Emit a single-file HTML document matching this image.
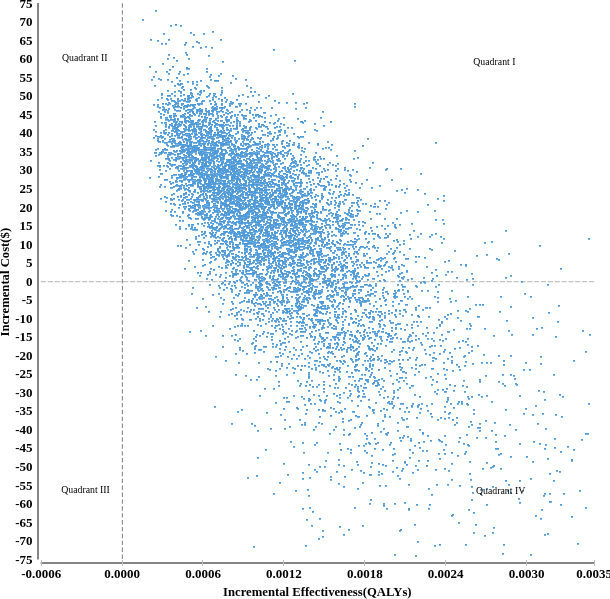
<!DOCTYPE html>
<html><head><meta charset="utf-8"><style>
html,body{margin:0;padding:0;background:#fff;}
body{width:610px;height:599px;overflow:hidden;position:relative;}
svg{position:absolute;left:0;top:0;display:block;}
.yl text{font:bold 13px "Liberation Serif","Times New Roman",serif;text-anchor:end;fill:#000;}
.xl text{font:bold 13px "Liberation Serif","Times New Roman",serif;text-anchor:middle;fill:#000;}
.q{font:9.8px "Liberation Serif","Times New Roman",serif;fill:#000;}
.t{font:bold 12.7px "Liberation Serif","Times New Roman",serif;fill:#000;}
</style></head><body>
<svg width="610" height="599" viewBox="0 0 610 599">
<path d="M40.9 281.7H594.4" stroke="#c4c4c4" stroke-width="1.2" stroke-dasharray="5.2 1.65" fill="none"/>
<path d="M122.4 3.3V560" stroke="#8a8a8a" stroke-width="1.1" stroke-dasharray="4.4 2.49" fill="none"/>

<path d="M264 134.875h2M245 292.875h2M175 130.875h2M275 175.875h2M260 149.875h2M275 163.875h2M272 346.875h2M222 138.875h2M198 126.875h2M320 336.875h2M240 166.875h2M407 291.875h2M255 225.875h2M503 544.875h2M258 223.875h2M213 95.875h2M227 254.875h2M216 152.875h2M222 335.875h2M224 231.875h2M269 251.875h2M299 208.875h2M244 248.875h2M342 313.875h2M336 155.875h2M337 322.875h2M205 108.875h2M303 317.875h2M217 80.875h2M172 66.875h2M222 198.875h2M267 169.875h2M195 142.875h2M270 206.875h2M369 332.875h2M263 210.875h2M229 328.875h2M250 184.875h2M224 196.875h2M241 193.875h2M259 188.875h2M217 249.875h2M243 183.875h2M206 157.875h2M288 290.875h2M250 199.875h2M191 151.875h2M250 161.875h2M505 230.875h2M216 226.875h2M197 169.875h2M311 227.875h2M224 149.875h2M357 273.875h2M194 161.875h2M338 203.875h2M248 132.875h2M185 157.875h2M219 246.875h2M293 180.875h2M220 148.875h2M175 160.875h2M243 136.875h2M208 159.875h2M155 152.875h2M259 283.875h2M207 157.875h2M180 92.875h2M282 201.875h2M185 172.875h2M239 195.875h2M257 160.875h2M217 151.875h2M206 117.875h2M240 163.875h2M242 168.875h2M263 215.875h2M329 343.875h2M401 470.875h2M251 226.875h2M329 280.875h2M210 159.875h2M224 183.875h2M468 426.875h2M214 183.875h2M242 239.875h2M241 166.875h2M321 231.875h2M240 220.875h2M231 222.875h2M180 177.875h2M226 170.875h2M283 273.875h2M176 158.875h2M197 140.875h2M270 216.875h2M180 175.875h2M222 180.875h2M260 201.875h2M244 230.875h2M202 213.875h2M403 265.875h2M392 305.875h2M218 170.875h2M314 313.875h2M187 146.875h2M271 246.875h2M258 94.875h2M233 267.875h2M330 323.875h2M258 148.875h2M199 214.875h2M366 179.875h2M343 244.875h2M258 362.875h2M372 383.875h2M383 297.875h2M331 215.875h2M327 332.875h2M275 219.875h2M235 208.875h2M262 239.875h2M363 255.875h2M353 241.875h2M370 293.875h2M295 243.875h2M236 126.875h2M371 342.875h2M331 184.875h2M299 223.875h2M253 160.875h2M253 159.875h2M211 182.875h2M267 209.875h2M165 109.875h2M219 316.875h2M188 194.875h2M191 196.875h2M237 255.875h2M239 338.875h2M366 368.875h2M246 154.875h2M290 236.875h2M544 399.875h2M255 271.875h2M386 168.875h2M218 187.875h2M222 173.875h2M219 228.875h2M231 152.875h2M535 405.875h2M313 189.875h2M209 197.875h2M271 155.875h2M253 229.875h2M215 175.875h2M210 245.875h2M267 304.875h2M303 279.875h2M199 119.875h2M280 223.875h2M263 264.875h2M281 363.875h2M240 171.875h2M187 156.875h2M368 273.875h2M255 214.875h2M239 105.875h2M356 239.875h2M278 263.875h2M472 278.875h2M297 262.875h2M327 141.875h2M391 401.875h2M255 127.875h2M339 443.875h2M230 148.875h2M310 247.875h2M296 299.875h2M350 331.875h2M443 200.875h2M249 156.875h2M338 258.875h2M386 508.875h2M338 317.875h2M293 271.875h2M193 173.875h2M207 165.875h2M177 118.875h2M374 203.875h2M415 465.875h2M179 150.875h2M193 210.875h2M321 423.875h2M227 137.875h2M189 210.875h2M208 187.875h2M400 338.875h2M280 202.875h2M270 220.875h2M204 181.875h2M325 222.875h2M250 309.875h2M327 278.875h2M369 312.875h2M179 125.875h2M197 172.875h2M234 209.875h2M209 93.875h2M194 266.875h2M263 190.875h2M466 279.875h2M452 370.875h2M240 148.875h2M244 240.875h2M238 169.875h2M281 234.875h2M214 229.875h2M214 207.875h2M252 270.875h2M278 158.875h2M167 156.875h2M274 279.875h2M203 170.875h2M334 271.875h2M328 307.875h2M189 148.875h2M217 218.875h2M374 350.875h2M328 224.875h2M285 261.875h2M218 172.875h2M223 237.875h2M210 118.875h2M205 187.875h2M189 100.875h2M272 234.875h2M229 203.875h2M342 327.875h2M220 157.875h2M292 260.875h2M350 452.875h2M362 312.875h2M240 152.875h2M288 222.875h2M503 364.875h2M225 101.875h2M265 155.875h2M236 198.875h2M252 179.875h2M268 152.875h2M244 287.875h2M322 286.875h2M281 294.875h2M231 195.875h2M243 117.875h2M318 254.875h2M163 114.875h2M284 158.875h2M394 503.875h2M259 260.875h2M260 244.875h2M495 441.875h2M258 159.875h2M287 168.875h2M242 230.875h2M201 210.875h2M190 184.875h2M406 188.875h2M256 224.875h2M311 279.875h2M253 221.875h2M372 364.875h2M217 117.875h2M390 322.875h2M282 245.875h2M168 158.875h2M211 158.875h2M239 180.875h2M360 305.875h2M286 206.875h2M226 177.875h2M271 157.875h2M218 142.875h2M229 237.875h2M208 224.875h2M304 193.875h2M223 231.875h2M240 144.875h2M411 278.875h2M355 286.875h2M166 142.875h2M254 279.875h2M241 301.875h2M269 131.875h2M190 206.875h2M301 396.875h2M540 356.875h2M269 133.875h2M221 177.875h2M260 160.875h2M194 181.875h2M173 198.875h2M247 197.875h2M229 212.875h2M252 282.875h2M246 161.875h2M393 349.875h2M215 144.875h2M204 143.875h2M239 290.875h2M209 271.875h2M369 294.875h2M202 157.875h2M271 228.875h2M263 263.875h2M380 338.875h2M231 187.875h2M385 233.875h2M219 153.875h2M249 177.875h2M239 205.875h2M238 205.875h2M282 195.875h2M519 443.875h2M307 194.875h2M189 134.875h2M313 275.875h2M235 148.875h2M340 449.875h2M231 167.875h2M248 299.875h2M218 188.875h2M276 243.875h2M310 218.875h2M306 345.875h2M273 267.875h2M260 190.875h2M217 166.875h2M222 176.875h2M298 269.875h2M218 198.875h2M259 253.875h2M216 254.875h2M265 170.875h2M275 223.875h2M305 305.875h2M307 245.875h2M519 480.875h2M251 232.875h2M177 143.875h2M202 205.875h2M192 149.875h2M256 236.875h2M244 256.875h2M235 237.875h2M418 371.875h2M293 237.875h2M286 230.875h2M282 253.875h2M330 415.875h2M428 488.875h2M343 348.875h2M294 287.875h2M237 273.875h2M350 227.875h2M295 205.875h2M213 109.875h2M560 504.875h2M322 325.875h2M317 321.875h2M292 234.875h2M303 188.875h2M199 177.875h2M255 215.875h2M182 150.875h2M224 232.875h2M323 209.875h2M269 183.875h2M202 190.875h2M191 152.875h2M241 138.875h2M230 225.875h2M387 402.875h2M291 127.875h2M280 271.875h2M206 126.875h2M231 174.875h2M249 119.875h2M248 210.875h2M204 231.875h2M321 319.875h2M348 189.875h2M199 275.875h2M188 121.875h2M254 203.875h2M254 190.875h2M571 516.875h2M214 171.875h2M198 213.875h2M324 265.875h2M279 177.875h2M288 203.875h2M284 270.875h2M438 439.875h2M338 247.875h2M322 281.875h2M259 335.875h2M179 137.875h2M349 207.875h2M192 207.875h2M261 256.875h2M343 296.875h2M380 260.875h2M262 333.875h2M245 127.875h2M172 138.875h2M197 199.875h2M187 147.875h2M292 240.875h2M311 525.875h2M345 291.875h2M445 338.875h2M240 188.875h2M247 143.875h2M244 168.875h2M471 396.875h2M270 298.875h2M189 166.875h2M338 334.875h2M275 264.875h2M236 182.875h2M360 246.875h2M473 413.875h2M297 298.875h2M224 140.875h2M350 419.875h2M456 422.875h2M274 224.875h2M320 292.875h2M190 138.875h2M281 273.875h2M322 320.875h2M249 208.875h2M538 390.875h2M247 136.875h2M290 237.875h2M237 201.875h2M298 137.875h2M268 203.875h2M384 414.875h2M226 256.875h2M301 121.875h2M244 325.875h2M248 211.875h2M296 264.875h2M306 409.875h2M189 157.875h2M262 245.875h2M281 268.875h2M562 396.875h2M188 187.875h2M448 470.875h2M211 234.875h2M314 291.875h2M290 208.875h2M339 243.875h2M283 220.875h2M263 177.875h2M211 201.875h2M177 158.875h2M300 167.875h2M188 135.875h2M242 243.875h2M301 275.875h2M258 203.875h2M397 475.875h2M220 195.875h2M395 310.875h2M178 189.875h2M319 252.875h2M284 277.875h2M256 128.875h2M238 202.875h2M248 253.875h2M252 167.875h2M214 107.875h2M269 192.875h2M203 141.875h2M317 310.875h2M285 236.875h2M363 312.875h2M295 490.875h2M280 193.875h2M271 232.875h2M409 357.875h2M220 218.875h2M263 208.875h2M210 168.875h2M249 311.875h2M290 246.875h2M225 117.875h2M400 369.875h2M224 165.875h2M407 298.875h2M166 165.875h2M257 217.875h2M303 241.875h2M296 272.875h2M298 284.875h2M238 103.875h2M264 212.875h2M431 403.875h2M211 107.875h2M219 136.875h2M236 214.875h2M322 148.875h2M273 285.875h2M206 251.875h2M190 104.875h2M299 303.875h2M271 179.875h2M188 199.875h2M225 226.875h2M236 181.875h2M225 172.875h2M213 158.875h2M358 197.875h2M222 128.875h2M304 422.875h2M245 375.875h2M211 156.875h2M245 197.875h2M239 191.875h2M326 219.875h2M308 178.875h2M344 187.875h2M293 251.875h2M201 194.875h2M328 343.875h2M183 177.875h2M239 121.875h2M216 134.875h2M510 374.875h2M171 119.875h2M308 282.875h2M209 100.875h2M281 197.875h2M237 228.875h2M237 187.875h2M292 144.875h2M219 124.875h2M354 238.875h2M169 160.875h2M271 214.875h2M268 216.875h2M306 292.875h2M358 224.875h2M234 137.875h2M342 295.875h2M306 221.875h2M370 474.875h2M253 205.875h2M293 142.875h2M312 253.875h2M394 224.875h2M446 318.875h2M333 408.875h2M232 215.875h2M222 159.875h2M279 482.875h2M498 355.875h2M265 301.875h2M346 267.875h2M247 176.875h2M322 305.875h2M200 151.875h2M263 209.875h2M356 338.875h2M310 224.875h2M339 302.875h2M303 264.875h2M276 265.875h2M277 215.875h2M357 204.875h2M205 186.875h2M187 150.875h2M306 272.875h2M264 247.875h2M253 261.875h2M511 334.875h2M237 131.875h2M343 300.875h2M345 262.875h2M318 172.875h2M370 227.875h2M213 163.875h2M286 222.875h2M189 109.875h2M249 267.875h2M185 161.875h2M471 424.875h2M293 227.875h2M553 480.875h2M327 346.875h2M313 221.875h2M214 182.875h2M212 141.875h2M254 202.875h2M390 335.875h2M187 145.875h2M267 175.875h2M233 173.875h2M323 279.875h2M326 243.875h2M360 470.875h2M241 323.875h2M267 256.875h2M230 263.875h2M296 211.875h2M184 155.875h2M170 198.875h2M241 134.875h2M209 76.875h2M443 238.875h2M266 293.875h2M223 299.875h2M201 174.875h2M266 256.875h2M262 313.875h2M320 251.875h2M222 208.875h2M176 77.875h2M204 155.875h2M231 115.875h2M249 238.875h2M323 345.875h2M236 120.875h2M247 289.875h2M228 138.875h2M390 248.875h2M182 114.875h2M304 286.875h2M216 127.875h2M389 370.875h2M370 262.875h2M248 191.875h2M482 304.875h2M251 213.875h2M229 206.875h2M276 238.875h2M269 223.875h2M382 464.875h2M212 99.875h2M195 148.875h2M302 200.875h2M299 222.875h2M314 204.875h2M289 287.875h2M244 177.875h2M215 274.875h2M236 196.875h2M217 130.875h2M345 277.875h2M274 257.875h2M331 367.875h2M198 169.875h2M164 196.875h2M343 230.875h2M266 241.875h2M158 176.875h2M444 349.875h2M319 271.875h2M326 268.875h2M507 490.875h2M300 154.875h2M216 144.875h2M201 176.875h2M278 324.875h2M305 173.875h2M231 250.875h2M174 85.875h2M290 168.875h2M369 316.875h2M249 201.875h2M293 289.875h2M261 295.875h2M181 200.875h2M303 259.875h2M190 175.875h2M237 232.875h2M320 307.875h2M190 228.875h2M339 261.875h2M346 194.875h2M323 125.875h2M242 184.875h2M201 162.875h2M353 274.875h2M203 211.875h2M191 159.875h2M294 256.875h2M185 206.875h2M231 289.875h2M278 201.875h2M241 282.875h2M276 281.875h2M215 108.875h2M190 201.875h2M326 347.875h2M169 103.875h2M343 434.875h2M197 141.875h2M200 212.875h2M303 281.875h2M249 229.875h2M335 426.875h2M357 405.875h2M205 158.875h2M305 202.875h2M194 160.875h2M210 187.875h2M321 244.875h2M267 197.875h2M401 277.875h2M323 327.875h2M233 177.875h2M201 167.875h2M240 199.875h2M314 228.875h2M435 286.875h2M207 170.875h2M272 194.875h2M357 388.875h2M372 311.875h2M244 219.875h2M334 316.875h2M265 187.875h2M412 385.875h2M286 174.875h2M222 226.875h2M418 316.875h2M409 248.875h2M248 273.875h2M246 311.875h2M263 242.875h2M303 276.875h2M373 305.875h2M268 175.875h2M313 297.875h2M216 123.875h2M220 182.875h2M354 293.875h2M361 378.875h2M297 223.875h2M269 172.875h2M246 244.875h2M266 182.875h2M412 332.875h2M208 184.875h2M297 230.875h2M249 112.875h2M342 287.875h2M312 386.875h2M245 214.875h2M310 260.875h2M218 193.875h2M384 362.875h2M239 212.875h2M405 351.875h2M302 218.875h2M316 217.875h2M285 323.875h2M271 211.875h2M308 200.875h2M186 54.875h2M272 289.875h2M193 158.875h2M510 355.875h2M230 162.875h2M200 189.875h2M355 182.875h2M274 153.875h2M302 478.875h2M274 297.875h2M377 206.875h2M391 338.875h2M260 206.875h2M260 172.875h2M427 410.875h2M304 327.875h2M389 416.875h2M174 104.875h2M220 147.875h2M204 180.875h2M334 371.875h2M234 154.875h2M519 502.875h2M280 123.875h2M276 236.875h2M407 338.875h2M285 233.875h2M304 404.875h2M210 145.875h2M198 120.875h2M235 185.875h2M196 145.875h2M298 265.875h2M260 224.875h2M244 187.875h2M215 252.875h2M265 206.875h2M424 282.875h2M175 143.875h2M241 227.875h2M177 135.875h2M368 317.875h2M248 189.875h2M308 273.875h2M324 305.875h2M255 212.875h2M192 287.875h2M239 213.875h2M320 261.875h2M199 182.875h2M164 122.875h2M302 257.875h2M257 180.875h2M332 347.875h2M230 172.875h2M177 153.875h2M336 346.875h2M261 273.875h2M383 279.875h2M293 245.875h2M259 214.875h2M249 249.875h2M243 310.875h2M327 307.875h2M302 231.875h2M206 183.875h2M369 365.875h2M243 234.875h2M266 150.875h2M169 136.875h2M345 294.875h2M206 133.875h2M196 100.875h2M302 237.875h2M314 211.875h2M242 270.875h2M337 168.875h2M365 275.875h2M269 266.875h2M315 224.875h2M276 201.875h2M207 149.875h2M272 205.875h2M352 411.875h2M232 246.875h2M275 238.875h2M205 156.875h2M218 183.875h2M232 211.875h2M305 107.875h2M193 168.875h2M514 378.875h2M263 180.875h2M274 327.875h2M287 244.875h2M422 450.875h2M468 398.875h2M242 206.875h2M272 318.875h2M343 265.875h2M285 185.875h2M310 184.875h2M170 115.875h2M326 244.875h2M251 234.875h2M176 129.875h2M270 184.875h2M198 163.875h2M228 180.875h2M345 232.875h2M266 126.875h2M272 198.875h2M301 353.875h2M180 83.875h2M362 390.875h2M276 219.875h2M448 413.875h2M260 285.875h2M279 290.875h2M284 338.875h2M167 99.875h2M238 148.875h2M402 468.875h2M228 255.875h2M245 222.875h2M309 215.875h2M260 253.875h2M384 325.875h2M444 468.875h2M476 255.875h2M317 239.875h2M420 233.875h2M354 507.875h2M500 453.875h2M282 320.875h2M250 171.875h2M260 214.875h2M371 230.875h2M298 196.875h2M182 158.875h2M277 160.875h2M240 195.875h2M245 151.875h2M449 412.875h2M205 159.875h2M376 259.875h2M191 171.875h2M258 229.875h2M221 153.875h2M214 122.875h2M294 178.875h2M291 330.875h2M237 114.875h2M232 170.875h2M444 261.875h2M581 439.875h2M250 207.875h2M284 173.875h2M277 269.875h2M302 252.875h2M317 238.875h2M286 274.875h2M242 282.875h2M470 479.875h2M284 184.875h2M357 390.875h2M177 156.875h2M290 283.875h2M471 350.875h2M356 273.875h2M218 185.875h2M177 83.875h2M299 419.875h2M247 163.875h2M348 420.875h2M223 132.875h2M218 165.875h2M257 262.875h2M170 141.875h2M193 191.875h2M334 207.875h2M218 191.875h2M299 202.875h2M236 117.875h2M425 307.875h2M323 239.875h2M201 138.875h2M344 169.875h2M195 172.875h2M307 242.875h2M208 181.875h2M252 172.875h2M204 116.875h2M332 366.875h2M189 142.875h2M415 309.875h2M255 176.875h2M216 210.875h2M295 290.875h2M238 259.875h2M226 174.875h2M231 271.875h2M355 355.875h2M337 249.875h2M246 212.875h2M328 240.875h2M498 381.875h2M261 189.875h2M341 316.875h2M272 312.875h2M189 152.875h2M241 218.875h2M292 261.875h2M312 215.875h2M276 176.875h2M281 178.875h2M164 133.875h2M192 81.875h2M293 184.875h2M228 165.875h2M329 258.875h2M230 194.875h2M257 303.875h2M196 126.875h2M204 117.875h2M302 216.875h2M222 124.875h2M261 195.875h2M342 421.875h2M160 116.875h2M202 200.875h2M231 291.875h2M301 293.875h2M270 272.875h2M253 330.875h2M427 460.875h2M323 246.875h2M470 421.875h2M235 142.875h2M444 418.875h2M336 254.875h2M351 205.875h2M191 172.875h2M286 145.875h2M381 340.875h2M292 180.875h2M203 179.875h2M505 480.875h2M288 212.875h2M358 206.875h2M279 328.875h2M291 256.875h2M282 219.875h2M227 235.875h2M246 249.875h2M238 222.875h2M237 199.875h2M197 241.875h2M218 266.875h2M245 204.875h2M272 276.875h2M241 209.875h2M226 171.875h2M277 159.875h2M212 121.875h2M328 243.875h2M195 176.875h2M278 188.875h2M186 171.875h2M297 146.875h2M250 242.875h2M197 180.875h2M258 124.875h2M262 204.875h2M192 181.875h2M175 167.875h2M293 446.875h2M282 154.875h2M313 324.875h2M232 169.875h2M239 270.875h2M297 380.875h2M294 221.875h2M160 135.875h2M247 292.875h2M391 361.875h2M193 157.875h2M319 293.875h2M186 152.875h2M298 208.875h2M388 251.875h2M257 276.875h2M203 134.875h2M192 83.875h2M282 183.875h2M262 247.875h2M366 246.875h2M181 122.875h2M249 211.875h2M197 103.875h2M369 503.875h2M352 339.875h2M220 201.875h2M357 359.875h2M309 399.875h2M302 208.875h2M262 244.875h2M176 181.875h2M194 227.875h2M238 160.875h2M267 368.875h2M262 234.875h2M155 125.875h2M218 240.875h2M334 300.875h2M200 110.875h2M314 156.875h2M241 219.875h2M303 267.875h2M207 174.875h2M444 391.875h2M274 260.875h2M374 339.875h2M349 338.875h2M262 319.875h2M260 180.875h2M221 163.875h2M198 152.875h2M170 146.875h2M253 272.875h2M211 149.875h2M278 203.875h2M290 257.875h2M342 303.875h2M258 286.875h2M161 151.875h2M311 259.875h2M244 246.875h2M214 101.875h2M309 284.875h2M261 215.875h2M323 185.875h2M195 138.875h2M295 220.875h2M205 171.875h2M293 260.875h2M226 164.875h2M245 143.875h2M277 135.875h2M257 237.875h2M282 189.875h2M199 187.875h2M171 135.875h2M293 225.875h2M265 201.875h2M312 233.875h2M190 143.875h2M302 203.875h2M335 214.875h2M344 282.875h2M216 156.875h2M331 265.875h2M358 395.875h2M215 179.875h2M357 488.875h2M291 263.875h2M301 182.875h2M216 199.875h2M312 249.875h2M266 281.875h2M325 176.875h2M202 100.875h2M409 449.875h2M213 236.875h2M292 219.875h2M432 357.875h2M250 379.875h2M256 186.875h2M379 266.875h2M388 401.875h2M226 127.875h2M336 306.875h2M221 149.875h2M213 167.875h2M221 104.875h2M312 280.875h2M290 177.875h2M208 219.875h2M258 242.875h2M293 243.875h2M205 155.875h2M343 183.875h2M298 211.875h2M303 270.875h2M174 211.875h2M369 349.875h2M399 478.875h2M350 346.875h2M391 327.875h2M160 79.875h2M372 331.875h2M357 386.875h2M230 174.875h2M249 170.875h2M303 173.875h2M313 274.875h2M380 336.875h2M334 270.875h2M285 225.875h2M191 124.875h2M268 144.875h2M322 267.875h2M197 126.875h2M192 211.875h2M275 241.875h2M329 162.875h2M285 186.875h2M201 121.875h2M273 204.875h2M384 280.875h2M232 229.875h2M466 386.875h2M289 218.875h2M227 228.875h2M233 297.875h2M258 116.875h2M451 356.875h2M271 107.875h2M250 160.875h2M269 226.875h2M313 279.875h2M412 349.875h2M274 231.875h2M234 235.875h2M201 172.875h2M197 124.875h2M297 289.875h2M199 195.875h2M247 211.875h2M318 297.875h2M190 172.875h2M244 249.875h2M326 267.875h2M273 186.875h2M262 134.875h2M367 291.875h2M233 184.875h2M227 147.875h2M251 195.875h2M342 270.875h2M270 212.875h2M259 168.875h2M337 401.875h2M184 177.875h2M293 215.875h2M272 174.875h2M275 375.875h2M285 231.875h2M251 269.875h2M296 316.875h2M435 219.875h2M276 220.875h2M223 208.875h2M360 319.875h2M243 139.875h2M278 193.875h2M247 194.875h2M253 243.875h2M182 211.875h2M225 170.875h2M161 93.875h2M399 251.875h2M221 145.875h2M262 214.875h2M295 305.875h2M246 270.875h2M324 262.875h2M277 300.875h2M245 126.875h2M276 257.875h2M281 365.875h2M203 187.875h2M236 125.875h2M436 275.875h2M240 185.875h2M194 133.875h2M251 267.875h2M182 199.875h2M343 486.875h2M282 207.875h2M274 270.875h2M234 168.875h2M386 409.875h2M253 225.875h2M245 218.875h2M285 189.875h2M257 286.875h2M370 374.875h2M238 256.875h2M308 261.875h2M458 441.875h2M212 199.875h2M264 181.875h2M181 157.875h2M267 165.875h2M196 201.875h2M415 359.875h2M358 320.875h2M220 190.875h2M347 296.875h2M256 379.875h2M286 248.875h2M299 316.875h2M194 204.875h2M209 137.875h2M278 274.875h2M218 223.875h2M403 309.875h2M308 201.875h2M199 172.875h2M219 219.875h2M195 204.875h2M264 171.875h2M178 90.875h2M257 162.875h2M233 281.875h2M571 459.875h2M235 164.875h2M348 219.875h2M286 155.875h2M254 91.875h2M393 396.875h2M365 379.875h2M369 337.875h2M355 261.875h2M244 180.875h2M213 138.875h2M252 144.875h2M248 144.875h2M205 141.875h2M320 250.875h2M264 172.875h2M249 222.875h2M207 175.875h2M289 172.875h2M282 191.875h2M333 252.875h2M253 245.875h2M342 225.875h2M338 412.875h2M251 203.875h2M221 173.875h2M249 240.875h2M431 416.875h2M202 143.875h2M379 200.875h2M362 276.875h2M339 249.875h2M208 95.875h2M221 188.875h2M274 235.875h2M359 187.875h2M273 220.875h2M239 264.875h2M332 291.875h2M255 254.875h2M239 199.875h2M308 142.875h2M214 172.875h2M236 179.875h2M209 182.875h2M304 358.875h2M210 222.875h2M530 554.875h2M380 360.875h2M212 153.875h2M256 260.875h2M287 127.875h2M309 243.875h2M274 251.875h2M464 355.875h2M343 286.875h2M356 251.875h2M273 221.875h2M315 311.875h2M202 193.875h2M457 317.875h2M334 276.875h2M241 215.875h2M254 153.875h2M243 172.875h2M371 368.875h2M229 103.875h2M225 195.875h2M223 177.875h2M272 193.875h2M335 213.875h2M282 342.875h2M221 126.875h2M290 441.875h2M277 137.875h2M353 253.875h2M235 287.875h2M170 119.875h2M433 340.875h2M563 493.875h2M174 135.875h2M321 308.875h2M251 211.875h2M453 407.875h2M355 322.875h2M287 253.875h2M426 450.875h2M288 150.875h2M357 281.875h2M227 221.875h2M355 349.875h2M159 169.875h2M442 340.875h2M268 158.875h2M184 268.875h2M198 186.875h2M338 206.875h2M366 300.875h2M219 156.875h2M330 339.875h2M177 145.875h2M383 397.875h2M267 240.875h2M289 333.875h2M441 334.875h2M276 155.875h2M212 189.875h2M221 208.875h2M314 242.875h2M256 150.875h2M288 272.875h2M305 255.875h2M541 327.875h2M185 52.875h2M369 443.875h2M469 328.875h2M205 157.875h2M369 366.875h2M301 257.875h2M269 207.875h2M176 128.875h2M202 206.875h2M197 158.875h2M318 365.875h2M239 208.875h2M236 236.875h2M206 168.875h2M291 159.875h2M257 216.875h2M245 189.875h2M362 286.875h2M209 163.875h2M318 218.875h2M274 146.875h2M295 254.875h2M222 136.875h2M191 121.875h2M319 283.875h2M330 203.875h2M199 141.875h2M404 461.875h2M360 303.875h2M199 196.875h2M240 194.875h2M391 341.875h2M227 193.875h2M377 382.875h2M214 235.875h2M339 288.875h2M305 282.875h2M274 191.875h2M338 339.875h2M210 130.875h2M226 208.875h2M261 278.875h2M215 178.875h2M278 174.875h2M355 299.875h2M246 258.875h2M263 257.875h2M413 230.875h2M280 267.875h2M208 191.875h2M320 273.875h2M207 222.875h2M224 204.875h2M250 134.875h2M185 126.875h2M303 229.875h2M222 145.875h2M530 296.875h2M213 188.875h2M226 199.875h2M249 232.875h2M215 232.875h2M226 214.875h2M343 429.875h2M224 168.875h2M337 242.875h2M227 176.875h2M258 311.875h2M178 124.875h2M324 282.875h2M221 217.875h2M328 147.875h2M484 328.875h2M172 141.875h2M194 135.875h2M298 242.875h2M267 307.875h2M301 238.875h2M192 185.875h2M411 406.875h2M206 214.875h2M363 338.875h2M392 269.875h2M311 368.875h2M240 167.875h2M259 166.875h2M235 210.875h2M328 184.875h2M320 301.875h2M433 357.875h2M267 219.875h2M277 185.875h2M444 453.875h2M222 183.875h2M194 148.875h2M235 244.875h2M251 220.875h2M370 348.875h2M245 79.875h2M255 162.875h2M250 145.875h2M184 197.875h2M509 424.875h2M222 168.875h2M510 306.875h2M255 259.875h2M386 253.875h2M383 408.875h2M253 141.875h2M247 285.875h2M226 159.875h2M306 202.875h2M366 380.875h2M334 217.875h2M288 308.875h2M205 119.875h2M206 165.875h2M235 204.875h2M245 165.875h2M228 224.875h2M288 236.875h2M313 314.875h2M388 363.875h2M248 270.875h2M323 365.875h2M230 82.875h2M169 124.875h2M419 429.875h2M246 266.875h2M175 102.875h2M177 110.875h2M253 273.875h2M230 216.875h2M284 188.875h2M221 154.875h2M264 167.875h2M233 191.875h2M435 233.875h2M252 114.875h2M364 360.875h2M271 240.875h2M495 448.875h2M282 237.875h2M246 165.875h2M301 201.875h2M240 309.875h2M183 124.875h2M300 201.875h2M352 169.875h2M249 230.875h2M311 318.875h2M237 191.875h2M291 204.875h2M311 320.875h2M335 170.875h2M305 160.875h2M376 333.875h2M235 106.875h2M258 254.875h2M245 170.875h2M337 281.875h2M270 237.875h2M181 87.875h2M337 216.875h2M292 230.875h2M214 125.875h2M250 248.875h2M228 147.875h2M406 426.875h2M232 244.875h2M238 215.875h2M199 181.875h2M272 148.875h2M230 117.875h2M283 232.875h2M266 211.875h2M241 176.875h2M233 159.875h2M260 126.875h2M298 306.875h2M261 197.875h2M235 165.875h2M218 168.875h2M195 99.875h2M206 96.875h2M203 191.875h2M266 240.875h2M184 100.875h2M294 249.875h2M259 200.875h2M229 207.875h2M311 352.875h2M401 189.875h2M385 208.875h2M244 243.875h2M451 463.875h2M300 246.875h2M194 183.875h2M295 198.875h2M314 286.875h2M331 327.875h2M346 262.875h2M338 303.875h2M272 212.875h2M261 192.875h2M283 146.875h2M210 257.875h2M398 268.875h2M207 161.875h2M246 167.875h2M211 175.875h2M206 197.875h2M272 258.875h2M261 244.875h2M271 237.875h2M275 246.875h2M185 127.875h2M167 58.875h2M196 137.875h2M254 192.875h2M308 294.875h2M221 176.875h2M238 166.875h2M326 242.875h2M357 235.875h2M324 306.875h2M196 204.875h2M463 380.875h2M201 217.875h2M241 259.875h2M295 182.875h2M379 394.875h2M288 198.875h2M320 302.875h2M268 249.875h2M273 275.875h2M232 171.875h2M220 153.875h2M267 222.875h2M203 166.875h2M366 355.875h2M363 253.875h2M292 229.875h2M246 226.875h2M215 201.875h2M256 189.875h2M255 143.875h2M242 194.875h2M288 211.875h2M245 192.875h2M179 144.875h2M222 158.875h2M431 338.875h2M238 311.875h2M302 170.875h2M192 183.875h2M280 343.875h2M238 195.875h2M350 358.875h2M209 130.875h2M253 204.875h2M275 321.875h2M250 211.875h2M198 172.875h2M291 305.875h2M209 187.875h2M210 131.875h2M330 246.875h2M281 179.875h2M226 267.875h2M307 248.875h2M350 349.875h2M173 138.875h2M297 300.875h2M287 258.875h2M343 465.875h2M241 208.875h2M236 121.875h2M257 172.875h2M201 155.875h2M236 153.875h2M345 219.875h2M179 177.875h2M466 328.875h2M235 133.875h2M465 265.875h2M301 172.875h2M411 314.875h2M313 394.875h2M270 254.875h2M277 252.875h2M207 185.875h2M255 197.875h2M332 224.875h2M399 387.875h2M389 444.875h2M358 351.875h2M341 254.875h2M248 264.875h2M208 176.875h2M280 355.875h2M283 261.875h2M245 238.875h2M226 140.875h2M271 299.875h2M375 402.875h2M255 340.875h2M366 438.875h2M281 206.875h2M443 351.875h2M197 197.875h2M238 95.875h2M300 183.875h2M236 99.875h2M389 320.875h2M251 256.875h2M208 142.875h2M246 237.875h2M393 405.875h2M309 507.875h2M379 324.875h2M214 174.875h2M221 158.875h2M248 200.875h2M325 259.875h2M228 154.875h2M239 223.875h2M306 216.875h2M557 321.875h2M204 222.875h2M502 374.875h2M194 208.875h2M271 336.875h2M265 167.875h2M220 169.875h2M190 170.875h2M285 312.875h2M266 221.875h2M267 247.875h2M407 290.875h2M469 308.875h2M347 347.875h2M167 112.875h2M287 171.875h2M162 106.875h2M251 185.875h2M368 346.875h2M195 137.875h2M321 256.875h2M252 213.875h2M393 360.875h2M279 368.875h2M226 116.875h2M194 205.875h2M170 153.875h2M252 342.875h2M224 176.875h2M420 173.875h2M306 237.875h2M293 199.875h2M279 267.875h2M267 161.875h2M307 193.875h2M257 153.875h2M231 165.875h2M326 298.875h2M191 95.875h2M236 168.875h2M263 303.875h2M269 304.875h2M165 170.875h2M329 261.875h2M305 266.875h2M280 291.875h2M268 234.875h2M167 162.875h2M291 270.875h2M264 200.875h2M309 266.875h2M359 280.875h2M314 360.875h2M180 124.875h2M313 305.875h2M190 154.875h2M288 252.875h2M253 338.875h2M168 141.875h2M355 311.875h2M394 226.875h2M555 414.875h2M326 311.875h2M223 250.875h2M224 191.875h2M202 151.875h2M209 113.875h2M244 207.875h2M346 271.875h2M384 312.875h2M268 233.875h2M310 217.875h2M200 129.875h2M251 343.875h2M237 147.875h2M221 194.875h2M203 198.875h2M286 171.875h2M209 120.875h2M214 132.875h2M473 409.875h2M397 290.875h2M219 174.875h2M328 283.875h2M194 169.875h2M270 236.875h2M271 186.875h2M216 113.875h2M222 193.875h2M294 273.875h2M333 258.875h2M215 228.875h2M367 279.875h2M288 363.875h2M259 318.875h2M191 157.875h2M297 199.875h2M444 411.875h2M342 278.875h2M174 124.875h2M209 147.875h2M314 196.875h2M266 292.875h2M291 217.875h2M234 257.875h2M325 220.875h2M366 253.875h2M334 280.875h2M225 186.875h2M435 142.875h2M208 162.875h2M280 175.875h2M223 182.875h2M204 217.875h2M337 218.875h2M543 391.875h2M486 254.875h2M217 240.875h2M286 177.875h2M182 151.875h2M248 261.875h2M451 479.875h2M314 444.875h2M237 192.875h2M431 368.875h2M184 130.875h2M334 200.875h2M373 206.875h2M196 168.875h2M219 107.875h2M352 272.875h2M471 273.875h2M368 233.875h2M457 455.875h2M313 293.875h2M240 187.875h2M248 292.875h2M323 364.875h2M214 210.875h2M263 176.875h2M298 205.875h2M238 149.875h2M267 294.875h2M256 266.875h2M309 384.875h2M336 342.875h2M437 419.875h2M323 308.875h2M304 199.875h2M249 192.875h2M278 225.875h2M431 272.875h2M286 229.875h2M337 228.875h2M197 183.875h2M585 351.875h2M303 240.875h2M308 193.875h2M277 224.875h2M284 132.875h2M250 224.875h2M210 244.875h2M258 153.875h2M173 193.875h2M267 184.875h2M327 356.875h2M248 214.875h2M579 490.875h2M302 313.875h2M238 178.875h2M340 410.875h2M303 200.875h2M195 150.875h2M285 213.875h2M290 163.875h2M241 200.875h2M265 97.875h2M172 145.875h2M384 257.875h2M180 165.875h2M216 188.875h2M268 240.875h2M360 335.875h2M232 75.875h2M256 165.875h2M303 318.875h2M344 248.875h2M283 190.875h2M351 286.875h2M294 235.875h2M258 247.875h2M235 182.875h2M270 252.875h2M267 212.875h2M498 259.875h2M261 219.875h2M243 174.875h2M268 189.875h2M230 217.875h2M266 233.875h2M310 280.875h2M468 352.875h2M310 253.875h2M306 182.875h2M277 223.875h2M236 176.875h2M399 408.875h2M344 310.875h2M348 253.875h2M227 186.875h2M278 212.875h2M188 209.875h2M188 175.875h2M262 151.875h2M300 243.875h2M365 443.875h2M279 193.875h2M347 228.875h2M229 153.875h2M285 242.875h2M460 320.875h2M233 162.875h2M289 318.875h2M264 217.875h2M243 197.875h2M261 170.875h2M188 151.875h2M210 214.875h2M167 104.875h2M231 241.875h2M441 441.875h2M227 119.875h2M341 269.875h2M229 218.875h2M486 462.875h2M359 343.875h2M223 192.875h2M330 250.875h2M209 273.875h2M298 238.875h2M223 196.875h2M395 327.875h2M289 230.875h2M353 248.875h2M170 164.875h2M249 263.875h2M277 239.875h2M252 153.875h2M292 155.875h2M344 222.875h2M216 137.875h2M235 353.875h2M325 260.875h2M279 192.875h2M235 196.875h2M216 207.875h2M268 165.875h2M191 184.875h2M315 330.875h2M371 348.875h2M168 126.875h2M235 263.875h2M287 235.875h2M160 113.875h2M257 218.875h2M255 230.875h2M432 368.875h2M299 257.875h2M230 203.875h2M267 236.875h2M319 311.875h2M338 308.875h2M242 233.875h2M208 124.875h2M439 325.875h2M223 186.875h2M445 391.875h2M262 235.875h2M248 135.875h2M238 189.875h2M187 151.875h2M177 126.875h2M317 278.875h2M248 194.875h2M299 204.875h2M322 313.875h2M238 175.875h2M235 171.875h2M184 208.875h2M193 179.875h2M256 252.875h2M283 397.875h2M334 308.875h2M196 170.875h2M242 228.875h2M161 152.875h2M208 204.875h2M218 135.875h2M400 403.875h2M237 215.875h2M293 170.875h2M308 376.875h2M207 184.875h2M248 166.875h2M335 186.875h2M298 143.875h2M294 262.875h2M216 211.875h2M178 158.875h2M321 327.875h2M300 207.875h2M222 162.875h2M164 138.875h2M359 300.875h2M329 347.875h2M373 382.875h2M277 227.875h2M220 154.875h2M336 219.875h2M254 193.875h2M316 386.875h2M259 138.875h2M343 264.875h2M301 209.875h2M477 345.875h2M178 207.875h2M539 245.875h2M222 171.875h2M267 227.875h2M289 165.875h2M356 215.875h2M254 218.875h2M336 360.875h2M212 114.875h2M251 243.875h2M410 440.875h2M273 241.875h2M294 222.875h2M329 300.875h2M157 148.875h2M272 138.875h2M346 213.875h2M202 167.875h2M222 139.875h2M224 163.875h2M271 233.875h2M212 152.875h2M319 399.875h2M237 211.875h2M219 171.875h2M261 313.875h2M183 131.875h2M175 122.875h2M276 285.875h2M251 208.875h2M215 150.875h2M225 227.875h2M357 342.875h2M269 210.875h2M179 141.875h2M204 141.875h2M341 356.875h2M348 248.875h2M223 155.875h2M225 119.875h2M318 353.875h2M280 256.875h2M238 216.875h2M372 354.875h2M287 212.875h2M417 541.875h2M358 292.875h2M325 147.875h2M286 397.875h2M174 101.875h2M278 204.875h2M338 225.875h2M217 148.875h2M228 214.875h2M282 312.875h2M228 217.875h2M267 199.875h2M241 174.875h2M364 383.875h2M201 153.875h2M414 394.875h2M221 164.875h2M361 422.875h2M185 160.875h2M266 266.875h2M296 294.875h2M346 289.875h2M351 210.875h2M307 220.875h2M192 229.875h2M300 208.875h2M218 155.875h2M334 311.875h2M159 166.875h2M325 308.875h2M300 283.875h2M225 174.875h2M303 202.875h2M333 217.875h2M171 175.875h2M180 168.875h2M277 260.875h2M258 174.875h2M307 489.875h2M306 231.875h2M217 164.875h2M459 485.875h2M298 220.875h2M217 137.875h2M200 138.875h2M332 221.875h2M309 189.875h2M172 140.875h2M354 380.875h2M333 294.875h2M246 150.875h2M299 249.875h2M468 509.875h2M355 282.875h2M200 186.875h2M279 340.875h2M384 390.875h2M333 275.875h2M229 201.875h2M323 340.875h2M273 288.875h2M249 162.875h2M275 330.875h2M204 211.875h2M283 241.875h2M196 81.875h2M418 338.875h2M246 162.875h2M369 313.875h2M208 241.875h2M350 286.875h2M523 369.875h2M233 153.875h2M253 187.875h2M246 204.875h2M377 259.875h2M299 296.875h2M405 304.875h2M331 235.875h2M259 160.875h2M267 132.875h2M350 317.875h2M194 146.875h2M295 331.875h2M207 143.875h2M214 240.875h2M262 308.875h2M245 255.875h2M412 403.875h2M304 233.875h2M533 441.875h2M260 231.875h2M270 229.875h2M205 125.875h2M222 346.875h2M315 346.875h2M317 183.875h2M234 146.875h2M343 337.875h2M285 289.875h2M251 192.875h2M227 210.875h2M345 387.875h2M278 287.875h2M266 217.875h2M385 359.875h2M302 243.875h2M239 218.875h2M239 123.875h2M242 131.875h2M174 91.875h2M336 175.875h2M231 191.875h2M331 197.875h2M184 138.875h2M255 115.875h2M378 358.875h2M388 335.875h2M262 212.875h2M355 276.875h2M193 182.875h2M262 211.875h2M261 188.875h2M283 244.875h2M545 444.875h2M270 333.875h2M549 501.875h2M230 230.875h2M321 328.875h2M224 153.875h2M376 213.875h2M376 348.875h2M197 212.875h2M274 236.875h2M259 143.875h2M245 217.875h2M284 226.875h2M230 264.875h2M255 252.875h2M237 173.875h2M227 129.875h2M239 347.875h2M467 338.875h2M205 207.875h2M225 177.875h2M276 279.875h2M295 233.875h2M205 152.875h2M294 247.875h2M540 518.875h2M268 283.875h2M240 236.875h2M310 192.875h2M232 247.875h2M232 161.875h2M352 194.875h2M220 130.875h2M291 334.875h2M365 367.875h2M405 377.875h2M287 196.875h2M175 123.875h2M236 193.875h2M192 147.875h2M256 182.875h2M372 278.875h2M364 274.875h2M256 181.875h2M247 132.875h2M307 264.875h2M192 162.875h2M389 403.875h2M299 328.875h2M202 298.875h2M390 267.875h2M261 156.875h2M216 227.875h2M311 288.875h2M196 124.875h2M359 302.875h2M337 163.875h2M255 164.875h2M184 144.875h2M254 142.875h2M254 219.875h2M203 178.875h2M201 166.875h2M306 291.875h2M271 287.875h2M260 137.875h2M313 157.875h2M398 359.875h2M336 294.875h2M396 467.875h2M184 203.875h2M292 191.875h2M222 202.875h2M257 181.875h2M296 306.875h2M264 243.875h2M282 212.875h2M174 151.875h2M232 178.875h2M206 184.875h2M232 189.875h2M192 174.875h2M274 122.875h2M285 194.875h2M243 164.875h2M253 260.875h2M256 152.875h2M200 180.875h2M547 533.875h2M189 165.875h2M368 274.875h2M186 129.875h2M293 133.875h2M261 288.875h2M203 147.875h2M185 129.875h2M200 134.875h2M343 195.875h2M234 114.875h2M203 163.875h2M161 94.875h2M372 162.875h2M364 309.875h2M263 221.875h2M236 180.875h2M299 265.875h2M203 177.875h2M306 242.875h2M170 183.875h2M255 267.875h2M367 381.875h2M227 181.875h2M416 286.875h2M260 283.875h2M283 217.875h2M305 199.875h2M272 333.875h2M185 183.875h2M402 359.875h2M208 218.875h2M259 204.875h2M310 223.875h2M199 174.875h2M215 80.875h2M304 120.875h2M229 105.875h2M243 300.875h2M207 178.875h2M555 336.875h2M300 369.875h2M203 120.875h2M191 110.875h2M281 143.875h2M222 170.875h2M379 237.875h2M165 210.875h2M248 201.875h2M180 157.875h2M376 380.875h2M204 242.875h2M220 142.875h2M266 273.875h2M308 175.875h2M241 184.875h2M278 166.875h2M251 273.875h2M319 323.875h2M301 205.875h2M246 279.875h2M273 301.875h2M508 330.875h2M458 366.875h2M218 210.875h2M264 232.875h2M266 174.875h2M230 128.875h2M253 254.875h2M321 197.875h2M236 140.875h2M353 321.875h2M397 397.875h2M319 357.875h2M205 164.875h2M197 185.875h2M242 115.875h2M256 190.875h2M492 466.875h2M416 321.875h2M232 152.875h2M173 145.875h2M254 177.875h2M405 258.875h2M243 179.875h2M230 196.875h2M295 174.875h2M236 119.875h2M177 105.875h2M341 265.875h2M314 272.875h2M529 369.875h2M233 180.875h2M352 295.875h2M292 244.875h2M177 168.875h2M254 175.875h2M260 289.875h2M214 165.875h2M354 369.875h2M431 249.875h2M234 216.875h2M388 202.875h2M296 165.875h2M291 207.875h2M214 199.875h2M302 263.875h2M189 118.875h2M166 117.875h2M334 288.875h2M283 208.875h2M402 371.875h2M170 211.875h2M209 136.875h2M289 206.875h2M217 170.875h2M284 214.875h2M370 499.875h2M320 296.875h2M189 125.875h2M200 166.875h2M493 527.875h2M205 166.875h2M315 199.875h2M235 236.875h2M303 398.875h2M234 234.875h2M241 148.875h2M293 266.875h2M190 198.875h2M237 198.875h2M417 325.875h2M236 199.875h2M372 316.875h2M241 222.875h2M407 436.875h2M277 199.875h2M336 211.875h2M284 202.875h2M290 195.875h2M353 272.875h2M252 183.875h2M211 194.875h2M192 111.875h2M287 151.875h2M374 448.875h2M326 176.875h2M386 291.875h2M222 144.875h2M218 181.875h2M379 213.875h2M271 158.875h2M311 213.875h2M215 96.875h2M296 205.875h2M168 102.875h2M225 162.875h2M259 157.875h2M232 308.875h2M350 318.875h2M280 232.875h2M265 259.875h2M341 233.875h2M244 208.875h2M233 183.875h2M349 334.875h2M295 245.875h2M408 347.875h2M346 371.875h2M211 169.875h2M253 171.875h2M328 347.875h2M255 114.875h2M291 291.875h2M260 205.875h2M251 197.875h2M261 163.875h2M324 261.875h2M202 163.875h2M253 294.875h2M202 211.875h2M215 143.875h2M243 235.875h2M397 422.875h2M294 160.875h2M206 175.875h2M373 245.875h2M319 240.875h2M215 103.875h2M345 332.875h2M328 218.875h2M229 192.875h2M305 156.875h2M211 181.875h2M207 186.875h2M320 312.875h2M289 426.875h2M394 453.875h2M239 198.875h2M171 187.875h2M299 182.875h2M317 231.875h2M241 155.875h2M353 273.875h2M302 331.875h2M255 263.875h2M385 169.875h2M189 111.875h2M247 146.875h2M282 140.875h2M323 268.875h2M365 309.875h2M324 400.875h2M302 226.875h2M369 358.875h2M212 181.875h2M204 188.875h2M260 198.875h2M246 172.875h2M261 200.875h2M234 148.875h2M198 119.875h2M320 319.875h2M377 343.875h2M335 227.875h2M434 545.875h2M371 187.875h2M314 336.875h2M221 92.875h2M205 149.875h2M209 127.875h2M212 155.875h2M223 228.875h2M260 246.875h2M180 142.875h2M239 179.875h2M267 185.875h2M284 168.875h2M283 318.875h2M184 120.875h2M379 298.875h2M339 180.875h2M233 273.875h2M480 489.875h2M231 193.875h2M237 154.875h2M235 149.875h2M232 196.875h2M302 204.875h2M244 263.875h2M330 479.875h2M257 324.875h2M237 261.875h2M176 184.875h2M208 157.875h2M235 151.875h2M503 360.875h2M181 136.875h2M313 212.875h2M259 395.875h2M261 243.875h2M226 120.875h2M158 78.875h2M329 324.875h2M419 447.875h2M150 160.875h2M228 238.875h2M219 247.875h2M220 234.875h2M261 190.875h2M186 140.875h2M212 144.875h2M183 206.875h2M295 208.875h2M213 165.875h2M164 109.875h2M300 224.875h2M269 289.875h2M382 328.875h2M277 220.875h2M229 174.875h2M251 132.875h2M308 267.875h2M228 119.875h2M431 234.875h2M229 199.875h2M190 97.875h2M278 260.875h2M323 323.875h2M382 331.875h2M241 256.875h2M192 129.875h2M246 227.875h2M482 468.875h2M311 210.875h2M311 304.875h2M179 180.875h2M276 188.875h2M352 265.875h2M234 282.875h2M182 145.875h2M313 231.875h2M178 177.875h2M284 147.875h2M283 211.875h2M311 192.875h2M229 251.875h2M360 266.875h2M317 212.875h2M215 157.875h2M213 108.875h2M247 266.875h2M251 196.875h2M263 212.875h2M177 154.875h2M208 311.875h2M319 156.875h2M343 260.875h2M283 117.875h2M283 291.875h2M253 176.875h2M183 74.875h2M328 257.875h2M226 169.875h2M305 229.875h2M171 143.875h2M202 158.875h2M271 190.875h2M314 233.875h2M316 172.875h2M354 386.875h2M318 274.875h2M227 211.875h2M200 330.875h2M352 261.875h2M295 197.875h2M248 164.875h2M428 508.875h2M223 139.875h2M399 323.875h2M235 222.875h2M505 277.875h2M341 225.875h2M245 205.875h2M270 161.875h2M532 334.875h2M285 281.875h2M277 291.875h2M343 275.875h2M301 243.875h2M188 153.875h2M265 182.875h2M224 144.875h2M272 227.875h2M345 311.875h2M353 219.875h2M195 171.875h2M159 165.875h2M266 162.875h2M189 159.875h2M283 155.875h2M362 324.875h2M200 143.875h2M183 157.875h2M198 196.875h2M186 196.875h2M259 171.875h2M349 244.875h2M255 179.875h2M340 235.875h2M391 403.875h2M187 81.875h2M230 195.875h2M235 161.875h2M201 154.875h2M301 304.875h2M177 137.875h2M228 141.875h2M214 168.875h2M375 301.875h2M252 158.875h2M183 193.875h2M197 209.875h2M225 202.875h2M332 336.875h2M199 161.875h2M284 210.875h2M295 163.875h2M199 153.875h2M223 189.875h2M245 193.875h2M217 214.875h2M236 178.875h2M215 145.875h2M168 132.875h2M253 238.875h2M211 233.875h2M411 223.875h2M506 320.875h2M248 225.875h2M257 258.875h2M383 287.875h2M325 186.875h2M234 167.875h2M241 318.875h2M341 257.875h2M312 511.875h2M232 180.875h2M242 156.875h2M298 301.875h2M393 390.875h2M321 223.875h2M283 331.875h2M397 284.875h2M273 207.875h2M189 144.875h2M301 150.875h2M454 348.875h2M313 273.875h2M339 220.875h2M223 221.875h2M187 139.875h2M214 234.875h2M230 211.875h2M274 233.875h2M336 292.875h2M273 219.875h2M243 184.875h2M287 167.875h2M295 161.875h2M242 208.875h2M270 235.875h2M279 352.875h2M188 136.875h2M304 279.875h2M340 249.875h2M208 147.875h2M195 151.875h2M296 225.875h2M296 227.875h2M257 245.875h2M227 260.875h2M230 200.875h2M254 295.875h2M309 477.875h2M349 301.875h2M239 226.875h2M255 189.875h2M205 163.875h2M398 303.875h2M479 381.875h2M220 197.875h2M291 195.875h2M283 207.875h2M393 448.875h2M389 363.875h2M276 138.875h2M331 351.875h2M295 310.875h2M266 168.875h2M255 222.875h2M249 127.875h2M276 256.875h2M315 309.875h2M191 133.875h2M240 153.875h2M295 239.875h2M158 111.875h2M258 179.875h2M270 428.875h2M228 208.875h2M202 165.875h2M256 200.875h2M235 159.875h2M165 122.875h2M296 312.875h2M350 393.875h2M260 171.875h2M304 235.875h2M213 175.875h2M190 185.875h2M334 289.875h2M363 331.875h2M303 297.875h2M269 252.875h2M245 181.875h2M220 180.875h2M237 186.875h2M280 151.875h2M285 235.875h2M337 369.875h2M327 236.875h2M303 322.875h2M261 130.875h2M364 255.875h2M265 282.875h2M201 231.875h2M344 408.875h2M224 253.875h2M312 167.875h2M178 135.875h2M241 276.875h2M259 220.875h2M300 308.875h2M261 182.875h2M271 244.875h2M347 214.875h2M199 129.875h2M588 403.875h2M310 190.875h2M247 170.875h2M212 206.875h2M267 216.875h2M429 354.875h2M286 401.875h2M268 201.875h2M276 202.875h2M319 518.875h2M345 287.875h2M423 277.875h2M203 157.875h2M228 210.875h2M179 71.875h2M276 325.875h2M286 301.875h2M231 179.875h2M232 275.875h2M185 117.875h2M297 294.875h2M250 87.875h2M187 120.875h2M251 236.875h2M416 417.875h2M416 504.875h2M402 403.875h2M321 301.875h2M330 274.875h2M299 321.875h2M337 223.875h2M296 325.875h2M192 104.875h2M317 306.875h2M262 141.875h2M275 236.875h2M234 184.875h2M258 230.875h2M306 102.875h2M225 262.875h2M221 107.875h2M451 362.875h2M265 310.875h2M242 152.875h2M273 168.875h2M274 232.875h2M197 173.875h2M222 217.875h2M250 153.875h2M201 223.875h2M300 168.875h2M337 214.875h2M203 185.875h2M199 139.875h2M295 206.875h2M221 151.875h2M226 175.875h2M224 170.875h2M191 93.875h2M284 179.875h2M349 281.875h2M352 376.875h2M348 376.875h2M247 214.875h2M547 284.875h2M448 331.875h2M232 276.875h2M213 186.875h2M421 364.875h2M182 103.875h2M254 352.875h2M245 148.875h2M183 89.875h2M263 331.875h2M353 263.875h2M167 119.875h2M276 361.875h2M248 179.875h2M383 428.875h2M210 155.875h2M293 144.875h2M154 121.875h2M371 432.875h2M252 272.875h2M289 239.875h2M257 268.875h2M244 262.875h2M190 141.875h2M208 55.875h2M365 352.875h2M179 220.875h2M306 253.875h2M530 478.875h2M219 131.875h2M320 227.875h2M268 207.875h2M246 109.875h2M374 333.875h2M176 121.875h2M212 212.875h2M238 179.875h2M406 271.875h2M402 419.875h2M280 302.875h2M310 403.875h2M329 259.875h2M301 218.875h2M355 246.875h2M250 210.875h2M340 270.875h2M438 453.875h2M312 203.875h2M205 214.875h2M500 468.875h2M216 166.875h2M231 176.875h2M295 102.875h2M231 137.875h2M335 165.875h2M279 171.875h2M258 157.875h2M280 195.875h2M346 257.875h2M323 178.875h2M245 225.875h2M175 224.875h2M210 150.875h2M284 203.875h2M173 146.875h2M233 146.875h2M295 187.875h2M273 256.875h2M226 161.875h2M195 209.875h2M191 141.875h2M242 129.875h2M339 247.875h2M436 484.875h2M250 139.875h2M267 202.875h2M308 240.875h2M205 130.875h2M232 253.875h2M241 153.875h2M359 378.875h2M285 346.875h2M249 165.875h2M222 161.875h2M237 295.875h2M285 279.875h2M217 124.875h2M207 274.875h2M277 214.875h2M504 435.875h2M254 195.875h2M257 114.875h2M169 95.875h2M171 138.875h2M186 149.875h2M194 149.875h2M241 164.875h2M171 133.875h2M319 335.875h2M216 197.875h2M248 182.875h2M277 278.875h2M217 129.875h2M293 231.875h2M188 217.875h2M291 162.875h2M361 278.875h2M357 352.875h2M335 336.875h2M244 292.875h2M393 392.875h2M320 400.875h2M288 202.875h2M298 145.875h2M343 355.875h2M217 120.875h2M229 231.875h2M443 449.875h2M263 165.875h2M233 249.875h2M199 179.875h2M204 154.875h2M225 135.875h2M182 203.875h2M251 206.875h2M305 224.875h2M263 200.875h2M291 312.875h2M353 411.875h2M364 233.875h2M262 301.875h2M246 163.875h2M193 128.875h2M264 197.875h2M248 185.875h2M294 274.875h2M354 427.875h2M251 235.875h2M399 363.875h2M262 124.875h2M287 275.875h2M225 265.875h2M321 171.875h2M264 255.875h2M210 113.875h2M351 261.875h2M270 194.875h2M371 321.875h2M252 228.875h2M265 256.875h2M203 219.875h2M229 134.875h2M408 336.875h2M319 312.875h2M223 143.875h2M197 171.875h2M234 222.875h2M210 184.875h2M319 218.875h2M290 233.875h2M207 166.875h2M282 230.875h2M219 276.875h2M328 233.875h2M397 241.875h2M315 232.875h2M316 312.875h2M232 158.875h2M294 231.875h2M329 294.875h2M308 400.875h2M386 261.875h2M171 194.875h2M349 297.875h2M274 309.875h2M266 412.875h2M173 150.875h2M352 216.875h2M292 177.875h2M364 247.875h2M351 384.875h2M394 293.875h2M283 194.875h2M314 337.875h2M385 485.875h2M261 176.875h2M218 75.875h2M220 159.875h2M415 339.875h2M339 201.875h2M300 256.875h2M212 235.875h2M292 181.875h2M285 170.875h2M207 140.875h2M243 118.875h2M331 242.875h2M243 125.875h2M231 423.875h2M263 235.875h2M304 148.875h2M371 372.875h2M351 244.875h2M209 232.875h2M340 263.875h2M296 229.875h2M294 208.875h2M273 243.875h2M202 173.875h2M321 341.875h2M322 229.875h2M244 198.875h2M333 256.875h2M218 230.875h2M299 170.875h2M290 175.875h2M323 391.875h2M351 282.875h2M217 180.875h2M238 187.875h2M398 289.875h2M392 253.875h2M327 169.875h2M454 385.875h2M162 103.875h2M330 407.875h2M350 297.875h2M295 277.875h2M314 123.875h2M250 191.875h2M226 178.875h2M197 110.875h2M228 182.875h2M469 473.875h2M325 255.875h2M400 440.875h2M315 293.875h2M310 336.875h2M210 126.875h2M426 405.875h2M190 124.875h2M223 226.875h2M163 165.875h2M439 458.875h2M201 175.875h2M219 175.875h2M399 280.875h2M327 370.875h2M162 63.875h2M200 176.875h2M239 349.875h2M365 387.875h2M307 241.875h2M201 140.875h2M229 160.875h2M300 193.875h2M313 245.875h2M174 127.875h2M155 71.875h2M345 267.875h2M207 132.875h2M246 283.875h2M309 223.875h2M321 253.875h2M363 301.875h2M189 331.875h2M267 234.875h2M378 236.875h2M257 289.875h2M326 296.875h2M230 101.875h2M269 275.875h2M206 213.875h2M226 205.875h2M322 259.875h2M213 173.875h2M249 128.875h2M315 226.875h2M187 170.875h2M459 437.875h2M246 169.875h2M330 179.875h2M440 345.875h2M352 244.875h2M236 127.875h2M277 205.875h2M272 343.875h2M313 183.875h2M269 122.875h2M345 298.875h2M222 243.875h2M229 183.875h2M247 325.875h2M263 218.875h2M286 102.875h2M433 352.875h2M212 325.875h2M268 178.875h2M495 434.875h2M213 193.875h2M344 224.875h2M195 145.875h2M331 301.875h2M396 218.875h2M201 170.875h2M185 173.875h2M280 240.875h2M254 169.875h2M251 216.875h2M260 192.875h2M213 162.875h2M273 252.875h2M333 393.875h2M250 229.875h2M209 179.875h2M334 244.875h2M228 212.875h2M330 286.875h2M335 235.875h2M364 433.875h2M264 192.875h2M283 282.875h2M357 200.875h2M211 172.875h2M253 303.875h2M203 90.875h2M300 331.875h2M289 204.875h2M274 166.875h2M351 202.875h2M467 404.875h2M228 159.875h2M239 200.875h2M286 135.875h2M176 133.875h2M443 223.875h2M394 314.875h2M473 532.875h2M314 205.875h2M362 225.875h2M312 216.875h2M377 423.875h2M198 132.875h2M354 106.875h2M226 287.875h2M412 452.875h2M203 237.875h2M335 319.875h2M246 85.875h2M185 159.875h2M399 530.875h2M203 188.875h2M319 165.875h2M207 135.875h2M199 143.875h2M411 385.875h2M261 220.875h2M229 164.875h2M318 384.875h2M315 231.875h2M377 275.875h2M293 263.875h2M179 185.875h2M274 320.875h2M280 177.875h2M230 197.875h2M245 257.875h2M378 471.875h2M348 383.875h2M389 233.875h2M288 232.875h2M456 277.875h2M258 184.875h2M247 147.875h2M415 307.875h2M242 163.875h2M404 329.875h2M340 332.875h2M186 185.875h2M209 185.875h2M178 170.875h2M210 233.875h2M270 196.875h2M295 216.875h2M194 114.875h2M394 257.875h2M338 256.875h2M358 238.875h2M216 178.875h2M323 384.875h2M242 197.875h2M233 195.875h2M270 186.875h2M396 379.875h2M368 285.875h2M288 328.875h2M329 385.875h2M215 124.875h2M264 213.875h2M300 164.875h2M207 207.875h2M207 147.875h2M250 290.875h2M286 374.875h2M244 216.875h2M246 248.875h2M342 218.875h2M248 227.875h2M277 184.875h2M214 186.875h2M168 120.875h2M479 427.875h2M225 165.875h2M294 202.875h2M281 272.875h2M273 156.875h2M324 187.875h2M324 245.875h2M255 184.875h2M403 254.875h2M343 233.875h2M165 152.875h2M320 254.875h2M175 151.875h2M281 187.875h2M271 225.875h2M171 215.875h2M198 202.875h2M169 152.875h2M268 174.875h2M237 153.875h2M359 332.875h2M247 216.875h2M350 258.875h2M337 282.875h2M295 283.875h2M419 396.875h2M231 228.875h2M214 80.875h2M441 321.875h2M235 167.875h2M289 272.875h2M247 233.875h2M267 252.875h2M260 245.875h2M285 320.875h2M243 130.875h2M193 106.875h2M250 206.875h2M360 325.875h2M220 160.875h2M231 198.875h2M225 243.875h2M295 203.875h2M312 285.875h2M232 231.875h2M577 543.875h2M585 507.875h2M239 203.875h2M366 260.875h2M205 180.875h2M209 149.875h2M277 299.875h2M247 191.875h2M170 117.875h2M362 337.875h2M261 145.875h2M242 94.875h2M317 163.875h2M183 187.875h2M280 203.875h2M355 277.875h2M387 236.875h2M311 212.875h2M444 406.875h2M219 237.875h2M203 225.875h2M279 301.875h2M347 287.875h2M258 245.875h2M392 301.875h2M284 419.875h2M247 246.875h2M265 230.875h2M366 435.875h2M260 216.875h2M211 226.875h2M311 197.875h2M297 164.875h2M161 173.875h2M223 233.875h2M273 144.875h2M208 179.875h2M269 181.875h2M305 329.875h2M228 185.875h2M386 339.875h2M325 270.875h2M239 259.875h2M282 221.875h2M291 158.875h2M472 492.875h2M169 168.875h2M202 124.875h2M385 262.875h2M296 321.875h2M239 225.875h2M226 189.875h2M234 218.875h2M268 181.875h2M231 178.875h2M224 206.875h2M308 297.875h2M407 340.875h2M265 255.875h2M260 294.875h2M324 339.875h2M244 229.875h2M254 165.875h2M210 254.875h2M320 266.875h2M273 245.875h2M342 363.875h2M306 262.875h2M160 198.875h2M223 172.875h2M387 336.875h2M269 204.875h2M356 228.875h2M233 223.875h2M221 254.875h2M380 305.875h2M211 225.875h2M230 212.875h2M375 285.875h2M217 171.875h2M399 273.875h2M342 266.875h2M200 183.875h2M236 163.875h2M239 158.875h2M243 165.875h2M220 297.875h2M265 195.875h2M274 171.875h2M285 207.875h2M210 153.875h2M227 222.875h2M247 241.875h2M337 292.875h2M268 208.875h2M185 139.875h2M205 114.875h2M235 188.875h2M287 198.875h2M358 445.875h2M249 190.875h2M336 334.875h2M475 304.875h2M284 195.875h2M364 353.875h2M322 278.875h2M316 231.875h2M357 272.875h2M214 184.875h2M350 344.875h2M174 106.875h2M280 247.875h2M251 165.875h2M248 173.875h2M314 294.875h2M344 273.875h2M313 259.875h2M306 186.875h2M252 210.875h2M291 203.875h2M267 268.875h2M294 232.875h2M303 291.875h2M297 307.875h2M359 297.875h2M253 193.875h2M218 254.875h2M243 267.875h2M196 84.875h2M171 199.875h2M282 276.875h2M292 210.875h2M342 201.875h2M206 68.875h2M224 97.875h2M169 115.875h2M205 193.875h2M195 160.875h2M191 177.875h2M297 243.875h2M279 251.875h2M310 249.875h2M302 325.875h2M183 167.875h2M236 221.875h2M309 326.875h2M253 166.875h2M284 205.875h2M320 306.875h2M282 262.875h2M335 290.875h2M173 107.875h2M356 331.875h2M251 194.875h2M265 227.875h2M226 241.875h2M250 181.875h2M427 435.875h2M257 255.875h2M205 335.875h2M237 162.875h2M334 387.875h2M235 274.875h2M181 173.875h2M355 241.875h2M362 482.875h2M202 177.875h2M181 132.875h2M351 359.875h2M290 188.875h2M346 222.875h2M317 293.875h2M266 152.875h2M271 212.875h2M227 164.875h2M255 302.875h2M221 99.875h2M399 437.875h2M188 208.875h2M336 367.875h2M186 142.875h2M256 276.875h2M314 229.875h2M333 280.875h2M227 170.875h2M222 196.875h2M199 167.875h2M238 170.875h2M260 159.875h2M378 369.875h2M314 315.875h2M288 240.875h2M249 259.875h2M188 225.875h2M329 260.875h2M187 73.875h2M211 179.875h2M242 145.875h2M220 205.875h2M316 307.875h2M372 318.875h2M362 396.875h2M257 137.875h2M279 317.875h2M224 211.875h2M367 360.875h2M245 245.875h2M187 202.875h2M230 180.875h2M230 236.875h2M284 221.875h2M315 258.875h2M330 121.875h2M181 149.875h2M200 126.875h2M300 240.875h2M303 246.875h2M186 68.875h2M223 167.875h2M358 346.875h2M166 197.875h2M200 194.875h2M364 374.875h2M327 231.875h2M261 217.875h2M331 305.875h2M364 267.875h2M323 232.875h2M241 230.875h2M217 133.875h2M240 238.875h2M253 117.875h2M200 92.875h2M349 347.875h2M221 108.875h2M233 169.875h2M213 205.875h2M186 133.875h2M266 269.875h2M338 196.875h2M200 152.875h2M465 451.875h2M258 262.875h2M193 253.875h2M381 355.875h2M203 184.875h2M212 115.875h2M321 226.875h2M335 326.875h2M212 180.875h2M273 493.875h2M430 413.875h2M329 220.875h2M209 217.875h2M250 254.875h2M274 132.875h2M191 160.875h2M225 138.875h2M298 227.875h2M225 215.875h2M209 215.875h2M208 183.875h2M354 309.875h2M292 221.875h2M193 165.875h2M233 235.875h2M269 197.875h2M291 308.875h2M153 104.875h2M254 348.875h2M226 259.875h2M182 139.875h2M283 221.875h2M449 298.875h2M257 171.875h2M401 367.875h2M248 235.875h2M378 330.875h2M309 246.875h2M265 213.875h2M202 137.875h2M279 188.875h2M354 366.875h2M226 231.875h2M284 192.875h2M187 167.875h2M282 167.875h2M388 334.875h2M303 168.875h2M319 181.875h2M260 308.875h2M183 115.875h2M209 183.875h2M228 120.875h2M187 189.875h2M230 288.875h2M255 318.875h2M313 261.875h2M210 251.875h2M401 417.875h2M399 224.875h2M254 233.875h2M227 249.875h2M265 126.875h2M254 162.875h2M199 94.875h2M209 154.875h2M211 187.875h2M377 234.875h2M183 197.875h2M266 194.875h2M236 183.875h2M380 311.875h2M364 300.875h2M216 187.875h2M265 189.875h2M195 147.875h2M242 273.875h2M268 262.875h2M292 189.875h2M369 257.875h2M362 298.875h2M342 290.875h2M250 91.875h2M216 176.875h2M301 325.875h2M254 244.875h2M342 277.875h2M271 252.875h2M280 219.875h2M375 443.875h2M173 115.875h2M356 171.875h2M207 144.875h2M504 385.875h2M238 209.875h2M363 393.875h2M323 188.875h2M302 136.875h2M311 283.875h2M341 411.875h2M194 170.875h2M328 351.875h2M180 107.875h2M203 119.875h2M278 190.875h2M305 545.875h2M278 275.875h2M322 208.875h2M335 202.875h2M222 282.875h2M224 212.875h2M185 110.875h2M198 97.875h2M450 403.875h2M227 245.875h2M174 164.875h2M278 180.875h2M314 343.875h2M266 198.875h2M316 315.875h2M217 192.875h2M255 231.875h2M491 241.875h2M395 261.875h2M243 159.875h2M408 508.875h2M300 212.875h2M278 118.875h2M294 368.875h2M292 196.875h2M302 253.875h2M246 301.875h2M437 389.875h2M404 192.875h2M339 367.875h2M256 167.875h2M425 353.875h2M422 432.875h2M280 344.875h2M267 172.875h2M307 285.875h2M208 202.875h2M174 128.875h2M423 441.875h2M186 106.875h2M277 305.875h2M401 350.875h2M266 232.875h2M198 207.875h2M221 135.875h2M472 284.875h2M369 211.875h2M331 273.875h2M241 136.875h2M298 206.875h2M293 287.875h2M402 437.875h2M214 219.875h2M314 403.875h2M191 148.875h2M264 388.875h2M305 240.875h2M276 311.875h2M292 267.875h2M246 149.875h2M181 152.875h2M261 160.875h2M233 163.875h2M192 124.875h2M203 189.875h2M304 219.875h2M281 260.875h2M308 164.875h2M228 232.875h2M261 298.875h2M431 384.875h2M249 129.875h2M332 252.875h2M480 493.875h2M313 159.875h2M261 227.875h2M271 217.875h2M279 197.875h2M338 186.875h2M179 156.875h2M334 368.875h2M198 149.875h2M232 102.875h2M244 173.875h2M437 297.875h2M305 385.875h2M196 166.875h2M508 253.875h2M259 196.875h2M308 291.875h2M307 200.875h2M289 313.875h2M297 176.875h2M375 333.875h2M296 248.875h2M220 145.875h2M264 202.875h2M323 220.875h2M354 243.875h2M222 187.875h2M235 273.875h2M330 212.875h2M273 223.875h2M217 250.875h2M269 195.875h2M290 219.875h2M230 226.875h2M429 307.875h2M290 276.875h2M240 208.875h2M202 194.875h2M230 189.875h2M229 186.875h2M284 349.875h2M271 199.875h2M200 214.875h2M326 395.875h2M177 98.875h2M548 312.875h2M243 232.875h2M372 410.875h2M310 319.875h2M164 186.875h2M302 194.875h2M385 304.875h2M368 406.875h2M229 198.875h2M315 203.875h2M271 189.875h2M323 158.875h2M320 248.875h2M351 372.875h2M293 196.875h2M322 337.875h2M466 434.875h2M183 128.875h2M249 159.875h2M214 218.875h2M250 319.875h2M236 106.875h2M542 413.875h2M297 280.875h2M248 153.875h2M211 136.875h2M277 152.875h2M209 160.875h2M253 209.875h2M335 411.875h2M275 346.875h2M201 200.875h2M255 287.875h2M321 239.875h2M356 461.875h2M245 160.875h2M316 275.875h2M288 143.875h2M342 247.875h2M328 192.875h2M262 226.875h2M381 378.875h2M302 508.875h2M250 126.875h2M212 160.875h2M328 284.875h2M255 284.875h2M379 336.875h2M220 170.875h2M244 244.875h2M469 323.875h2M309 220.875h2M186 143.875h2M218 216.875h2M292 228.875h2M396 190.875h2M348 529.875h2M188 140.875h2M321 291.875h2M233 121.875h2M325 366.875h2M500 296.875h2M282 278.875h2M208 243.875h2M391 312.875h2M391 330.875h2M272 211.875h2M307 292.875h2M355 256.875h2M210 268.875h2M471 499.875h2M254 296.875h2M184 113.875h2M340 347.875h2M256 242.875h2M383 265.875h2M236 197.875h2M294 224.875h2M225 171.875h2M259 115.875h2M293 201.875h2M193 150.875h2M255 192.875h2M316 309.875h2M285 199.875h2M165 158.875h2M286 312.875h2M292 161.875h2M282 298.875h2M176 178.875h2M225 200.875h2M247 261.875h2M292 317.875h2M272 278.875h2M231 239.875h2M332 164.875h2M236 269.875h2M340 279.875h2M234 145.875h2M439 353.875h2M223 149.875h2M315 273.875h2M276 284.875h2M192 194.875h2M251 149.875h2M342 268.875h2M271 195.875h2M306 261.875h2M319 248.875h2M291 216.875h2M214 221.875h2M484 242.875h2M222 238.875h2M285 266.875h2M317 254.875h2M274 252.875h2M239 302.875h2M323 255.875h2M195 157.875h2M295 279.875h2M214 195.875h2M350 313.875h2M463 443.875h2M195 133.875h2M220 221.875h2M206 176.875h2M379 280.875h2M212 232.875h2M243 148.875h2M204 150.875h2M217 135.875h2M374 291.875h2M189 114.875h2M196 173.875h2M174 159.875h2M216 230.875h2M262 194.875h2M182 163.875h2M456 417.875h2M276 156.875h2M301 202.875h2M295 255.875h2M229 171.875h2M302 246.875h2M373 267.875h2M248 208.875h2M242 187.875h2M261 230.875h2M247 158.875h2M309 351.875h2M322 196.875h2M184 105.875h2M259 199.875h2M483 354.875h2M332 240.875h2M191 293.875h2M349 287.875h2M326 287.875h2M277 195.875h2M257 212.875h2M347 233.875h2M374 438.875h2M212 223.875h2M178 123.875h2M235 271.875h2M285 214.875h2M216 214.875h2M335 348.875h2M305 213.875h2M264 229.875h2M445 378.875h2M173 119.875h2M356 264.875h2M471 486.875h2M355 337.875h2M196 109.875h2M261 229.875h2M224 220.875h2M316 211.875h2M189 146.875h2M203 209.875h2M348 323.875h2M263 125.875h2M305 221.875h2M258 221.875h2M447 399.875h2M188 127.875h2M263 219.875h2M253 215.875h2M197 186.875h2M430 440.875h2M213 200.875h2M197 223.875h2M337 294.875h2M544 534.875h2M226 185.875h2M235 141.875h2M308 374.875h2M478 394.875h2M184 125.875h2M247 212.875h2M317 349.875h2M288 145.875h2M357 315.875h2M230 173.875h2M222 203.875h2M322 206.875h2M257 256.875h2M196 167.875h2M260 226.875h2M248 205.875h2M308 269.875h2M264 174.875h2M263 260.875h2M256 177.875h2M335 283.875h2M302 442.875h2M272 253.875h2M246 216.875h2M208 165.875h2M303 256.875h2M279 274.875h2M427 338.875h2M399 377.875h2M279 254.875h2M318 257.875h2M250 107.875h2M271 181.875h2M292 270.875h2M286 294.875h2M302 275.875h2M481 362.875h2M297 259.875h2M163 130.875h2M270 227.875h2M446 401.875h2M189 130.875h2M235 269.875h2M188 68.875h2M343 284.875h2M351 335.875h2M223 114.875h2M185 138.875h2M305 286.875h2M169 154.875h2M205 306.875h2M230 122.875h2M345 292.875h2M346 351.875h2M293 354.875h2M322 282.875h2M223 289.875h2M220 73.875h2M211 180.875h2M324 410.875h2M222 135.875h2M249 184.875h2M302 239.875h2M175 115.875h2M258 222.875h2M184 201.875h2M553 374.875h2M409 387.875h2M213 199.875h2M263 249.875h2M301 265.875h2M193 145.875h2M244 156.875h2M388 333.875h2M322 271.875h2M303 219.875h2M194 189.875h2M245 130.875h2M451 360.875h2M210 171.875h2M315 168.875h2M381 258.875h2M437 198.875h2M249 172.875h2M256 175.875h2M290 225.875h2M385 237.875h2M265 191.875h2M211 110.875h2M202 125.875h2M255 205.875h2M353 341.875h2M191 146.875h2M216 192.875h2M206 85.875h2M350 257.875h2M285 215.875h2M440 236.875h2M199 241.875h2M253 174.875h2M260 304.875h2M413 347.875h2M258 308.875h2M229 227.875h2M288 301.875h2M283 218.875h2M317 195.875h2M317 319.875h2M261 276.875h2M290 250.875h2M306 337.875h2M257 253.875h2M276 203.875h2M218 251.875h2M327 320.875h2M187 215.875h2M334 343.875h2M283 253.875h2M210 79.875h2M380 431.875h2M215 142.875h2M238 186.875h2M426 327.875h2M401 272.875h2M206 201.875h2M226 244.875h2M272 299.875h2M191 178.875h2M259 141.875h2M228 219.875h2M209 207.875h2M243 135.875h2M447 271.875h2M356 275.875h2M193 149.875h2M178 188.875h2M328 259.875h2M336 368.875h2M386 434.875h2M209 196.875h2M342 321.875h2M367 138.875h2M222 177.875h2M243 222.875h2M196 159.875h2M274 190.875h2M245 103.875h2M283 222.875h2M253 270.875h2M249 188.875h2M259 298.875h2M410 438.875h2M307 247.875h2M333 336.875h2M355 384.875h2M234 247.875h2M220 115.875h2M312 251.875h2M210 182.875h2M183 160.875h2M373 376.875h2M342 223.875h2M189 217.875h2M291 277.875h2M245 231.875h2M338 464.875h2M279 126.875h2M373 278.875h2M319 333.875h2M187 112.875h2M271 320.875h2M197 159.875h2M352 270.875h2M231 161.875h2M281 193.875h2M326 247.875h2M180 186.875h2M183 94.875h2M183 144.875h2M213 220.875h2M188 205.875h2M316 228.875h2M216 129.875h2M285 282.875h2M281 242.875h2M289 251.875h2M426 266.875h2M245 188.875h2M418 460.875h2M284 428.875h2M248 187.875h2M215 156.875h2M311 239.875h2M222 221.875h2M259 211.875h2M282 224.875h2M215 168.875h2M343 226.875h2M246 234.875h2M347 330.875h2M358 416.875h2M290 221.875h2M190 126.875h2M321 303.875h2M226 144.875h2M220 274.875h2M181 181.875h2M308 239.875h2M282 353.875h2M177 196.875h2M410 238.875h2M240 215.875h2M244 274.875h2M350 274.875h2M236 245.875h2M223 107.875h2M249 261.875h2M155 155.875h2M338 378.875h2M193 202.875h2M431 345.875h2M224 215.875h2M302 472.875h2M362 246.875h2M231 111.875h2M187 99.875h2M210 127.875h2M174 113.875h2M270 153.875h2M256 202.875h2M220 224.875h2M318 409.875h2M377 314.875h2M333 379.875h2M277 230.875h2M219 186.875h2M238 293.875h2M466 403.875h2M258 297.875h2M232 125.875h2M278 264.875h2M153 137.875h2M571 460.875h2M291 235.875h2M204 264.875h2M228 168.875h2M255 120.875h2M261 284.875h2M340 240.875h2M541 509.875h2M189 115.875h2M278 205.875h2M288 254.875h2M229 125.875h2M238 221.875h2M573 449.875h2M465 361.875h2M318 422.875h2M286 240.875h2M486 504.875h2M257 143.875h2M195 199.875h2M221 120.875h2M329 312.875h2M385 332.875h2M352 293.875h2M251 423.875h2M357 259.875h2M519 395.875h2M231 313.875h2M318 259.875h2M329 193.875h2M171 157.875h2M263 239.875h2M247 217.875h2M303 277.875h2M411 324.875h2M268 151.875h2M203 168.875h2M155 135.875h2M265 203.875h2M498 454.875h2M197 182.875h2M418 256.875h2M296 282.875h2M212 109.875h2M177 133.875h2M231 230.875h2M290 186.875h2M305 175.875h2M203 125.875h2M237 340.875h2M276 296.875h2M208 168.875h2M257 144.875h2M208 132.875h2M262 164.875h2M168 54.875h2M169 69.875h2M329 345.875h2M276 144.875h2M247 477.875h2M231 210.875h2M182 176.875h2M339 378.875h2M262 251.875h2M264 206.875h2M271 265.875h2M334 250.875h2M303 452.875h2M188 117.875h2M357 253.875h2M220 152.875h2M232 176.875h2M194 129.875h2M223 214.875h2M194 158.875h2M300 238.875h2M238 227.875h2M264 160.875h2M203 175.875h2M275 224.875h2M333 429.875h2M373 319.875h2M202 140.875h2M290 209.875h2M214 135.875h2M257 313.875h2M207 183.875h2M230 140.875h2M343 287.875h2M451 271.875h2M281 254.875h2M464 453.875h2M266 189.875h2M204 198.875h2M174 131.875h2M291 166.875h2M282 252.875h2M290 215.875h2M387 333.875h2M284 152.875h2M242 192.875h2M291 212.875h2M518 498.875h2M166 144.875h2M259 189.875h2M179 80.875h2M225 150.875h2M153 129.875h2M216 151.875h2M217 210.875h2M149 177.875h2M241 165.875h2M405 311.875h2M281 239.875h2M380 343.875h2M253 256.875h2M291 258.875h2M285 190.875h2M263 315.875h2M310 188.875h2M286 228.875h2M298 232.875h2M331 275.875h2M537 423.875h2M315 186.875h2M309 250.875h2M170 203.875h2M216 167.875h2M316 286.875h2M297 247.875h2M282 275.875h2M245 215.875h2M184 161.875h2M182 168.875h2M203 165.875h2M262 250.875h2M261 178.875h2M281 170.875h2M208 128.875h2M467 344.875h2M188 95.875h2M297 287.875h2M399 310.875h2M283 300.875h2M268 298.875h2M403 371.875h2M232 212.875h2M218 148.875h2M348 210.875h2M293 238.875h2M293 197.875h2M379 320.875h2M163 107.875h2M285 232.875h2M250 167.875h2M274 283.875h2M330 476.875h2M328 365.875h2M278 266.875h2M301 365.875h2M333 234.875h2M248 121.875h2M308 464.875h2M225 206.875h2M369 474.875h2M350 213.875h2M243 188.875h2M322 301.875h2M348 209.875h2M343 392.875h2M297 182.875h2M174 125.875h2M233 212.875h2M227 160.875h2M285 264.875h2M261 296.875h2M181 83.875h2M341 219.875h2M188 98.875h2M182 166.875h2M195 123.875h2M258 151.875h2M231 285.875h2M239 279.875h2M294 204.875h2M269 263.875h2M188 133.875h2M278 381.875h2M329 317.875h2M254 201.875h2M217 194.875h2M297 234.875h2M228 166.875h2M297 192.875h2M230 232.875h2M388 313.875h2M246 225.875h2M215 180.875h2M233 203.875h2M336 261.875h2M197 170.875h2M301 230.875h2M219 165.875h2M233 160.875h2M169 181.875h2M217 183.875h2M275 197.875h2M227 205.875h2M260 185.875h2M276 189.875h2M258 224.875h2M211 216.875h2M502 383.875h2M261 147.875h2M245 213.875h2M214 134.875h2M545 428.875h2M234 208.875h2M210 134.875h2M210 190.875h2M182 134.875h2M294 230.875h2M304 226.875h2M246 277.875h2M266 192.875h2M254 182.875h2M312 255.875h2M355 318.875h2M226 261.875h2M409 296.875h2M337 387.875h2M188 101.875h2M446 369.875h2M249 273.875h2M235 190.875h2M297 336.875h2M206 177.875h2M224 184.875h2M297 212.875h2M250 237.875h2M265 305.875h2M214 152.875h2M258 123.875h2M270 314.875h2M303 248.875h2M385 299.875h2M322 536.875h2M190 136.875h2M329 433.875h2M252 262.875h2M214 243.875h2M258 278.875h2M279 281.875h2M411 405.875h2M187 179.875h2M243 173.875h2M300 229.875h2M279 196.875h2M348 298.875h2M356 353.875h2M379 316.875h2M289 245.875h2M206 195.875h2M234 203.875h2M227 200.875h2M372 409.875h2M267 239.875h2M310 275.875h2M279 187.875h2M220 94.875h2M223 122.875h2M331 267.875h2M294 174.875h2M502 553.875h2M328 264.875h2M303 313.875h2M397 275.875h2M232 175.875h2M228 194.875h2M399 366.875h2M270 151.875h2M305 324.875h2M179 176.875h2M327 298.875h2M321 364.875h2M322 410.875h2M269 238.875h2M220 110.875h2M333 191.875h2M169 116.875h2M265 163.875h2M284 308.875h2M439 440.875h2M302 219.875h2M300 349.875h2M233 128.875h2M199 213.875h2M238 251.875h2M271 201.875h2M364 396.875h2M397 389.875h2M211 138.875h2M371 462.875h2M221 125.875h2M259 284.875h2M286 308.875h2M257 208.875h2M222 188.875h2M332 296.875h2M384 237.875h2M244 115.875h2M225 201.875h2M252 95.875h2M239 172.875h2M211 166.875h2M287 299.875h2M329 209.875h2M231 163.875h2M421 344.875h2M157 136.875h2M295 108.875h2M374 247.875h2M398 266.875h2M420 342.875h2M257 430.875h2M201 216.875h2M282 178.875h2M248 242.875h2M242 196.875h2M265 233.875h2M157 104.875h2M233 157.875h2M196 149.875h2M246 170.875h2M424 257.875h2M197 93.875h2M477 316.875h2M183 141.875h2M209 191.875h2M214 203.875h2M213 148.875h2M467 444.875h2M305 231.875h2M426 307.875h2M269 160.875h2M205 190.875h2M406 383.875h2M409 457.875h2M303 172.875h2M355 278.875h2M233 247.875h2M409 234.875h2M256 144.875h2M275 183.875h2M378 311.875h2M213 269.875h2M249 204.875h2M304 256.875h2M377 442.875h2M308 236.875h2M264 252.875h2M203 100.875h2M430 376.875h2M285 276.875h2M214 151.875h2M270 316.875h2M382 449.875h2M225 197.875h2M325 265.875h2M192 167.875h2M349 376.875h2M404 341.875h2M275 198.875h2M258 170.875h2M269 219.875h2M287 208.875h2M375 283.875h2M278 282.875h2M260 155.875h2M297 408.875h2M282 146.875h2M250 263.875h2M178 73.875h2M431 280.875h2M255 181.875h2M232 203.875h2M176 60.875h2M299 186.875h2M268 95.875h2M189 135.875h2M256 154.875h2M381 274.875h2M320 320.875h2M291 224.875h2M351 400.875h2M257 457.875h2M202 122.875h2M250 120.875h2M248 212.875h2M172 153.875h2M171 146.875h2M269 235.875h2M181 131.875h2M235 307.875h2M287 259.875h2M214 189.875h2M378 474.875h2M216 205.875h2M352 322.875h2M302 346.875h2M264 121.875h2M230 202.875h2M219 190.875h2M187 161.875h2M159 136.875h2M303 195.875h2M313 296.875h2M403 243.875h2M269 224.875h2M240 161.875h2M296 210.875h2M343 249.875h2M392 460.875h2M287 336.875h2M302 319.875h2M360 290.875h2M295 244.875h2M221 162.875h2M286 193.875h2M296 169.875h2M289 310.875h2M191 170.875h2M255 336.875h2M292 173.875h2M363 445.875h2M297 276.875h2M204 215.875h2M263 183.875h2M209 227.875h2M251 152.875h2M351 224.875h2M164 142.875h2M209 174.875h2M532 414.875h2M485 437.875h2M306 324.875h2M195 210.875h2M157 106.875h2M287 474.875h2M363 387.875h2M234 326.875h2M201 164.875h2M262 206.875h2M301 206.875h2M188 260.875h2M301 424.875h2M245 202.875h2M197 184.875h2M338 369.875h2M171 100.875h2M349 395.875h2M268 260.875h2M310 248.875h2M350 449.875h2M293 395.875h2M256 185.875h2M396 247.875h2M217 115.875h2M419 412.875h2M306 220.875h2M173 186.875h2M220 143.875h2M387 432.875h2M244 184.875h2M210 103.875h2M249 110.875h2M244 250.875h2M211 147.875h2M439 324.875h2M239 234.875h2M222 214.875h2M211 148.875h2M292 158.875h2M356 202.875h2M300 270.875h2M296 300.875h2M233 149.875h2M181 176.875h2M268 311.875h2M368 262.875h2M515 383.875h2M185 196.875h2M403 435.875h2M198 142.875h2M194 150.875h2M192 130.875h2M234 239.875h2M317 143.875h2M213 195.875h2M325 280.875h2M193 151.875h2M172 105.875h2M391 179.875h2M368 348.875h2M232 257.875h2M313 263.875h2M273 179.875h2M425 335.875h2M225 112.875h2M232 268.875h2M343 299.875h2M233 174.875h2M183 106.875h2M198 161.875h2M522 490.875h2M205 162.875h2M262 269.875h2M306 260.875h2M195 129.875h2M251 184.875h2M292 166.875h2M224 177.875h2M266 283.875h2M276 248.875h2M337 279.875h2M225 360.875h2M246 173.875h2M198 244.875h2M224 166.875h2M238 362.875h2M265 199.875h2M391 267.875h2M252 182.875h2M300 211.875h2M243 169.875h2M247 153.875h2M258 126.875h2M345 190.875h2M318 245.875h2M265 274.875h2M234 115.875h2M190 144.875h2M234 232.875h2M491 430.875h2M364 284.875h2M177 245.875h2M197 168.875h2M270 140.875h2M174 109.875h2M261 208.875h2M411 298.875h2M372 328.875h2M380 257.875h2M283 124.875h2M237 411.875h2M354 232.875h2M351 334.875h2M300 189.875h2M213 203.875h2M251 186.875h2M184 179.875h2M189 191.875h2M451 452.875h2M205 178.875h2M213 190.875h2M239 169.875h2M478 316.875h2M381 473.875h2M263 197.875h2M299 259.875h2M303 103.875h2M255 286.875h2M280 414.875h2M339 394.875h2M346 185.875h2M258 225.875h2M245 194.875h2M257 260.875h2M264 156.875h2M301 242.875h2M243 218.875h2M278 261.875h2M243 214.875h2M265 215.875h2M315 230.875h2M193 146.875h2M178 84.875h2M378 323.875h2M322 111.875h2M229 228.875h2M208 140.875h2M223 254.875h2M378 379.875h2M233 156.875h2M280 230.875h2M219 199.875h2M321 302.875h2M189 126.875h2M301 208.875h2M384 300.875h2M197 272.875h2M253 200.875h2M467 396.875h2M349 390.875h2M258 206.875h2M214 148.875h2M316 214.875h2M237 231.875h2M247 139.875h2M228 174.875h2M344 361.875h2M374 233.875h2M201 109.875h2M306 315.875h2M250 222.875h2M370 310.875h2M256 188.875h2M165 132.875h2M407 359.875h2M360 289.875h2M274 268.875h2M278 196.875h2M248 243.875h2M318 255.875h2M331 286.875h2M178 199.875h2M181 137.875h2M246 273.875h2M233 258.875h2M337 343.875h2M278 247.875h2M278 281.875h2M294 238.875h2M282 310.875h2M260 264.875h2M231 177.875h2M269 217.875h2M209 122.875h2M321 193.875h2M332 284.875h2M345 217.875h2M525 362.875h2M198 115.875h2M302 224.875h2M174 95.875h2M260 284.875h2M209 118.875h2M213 120.875h2M320 236.875h2M344 167.875h2M229 167.875h2M385 433.875h2M209 177.875h2M393 240.875h2M248 184.875h2M214 143.875h2M252 180.875h2M345 231.875h2M224 226.875h2M296 218.875h2M252 275.875h2M299 270.875h2M328 210.875h2M207 188.875h2M244 154.875h2M339 371.875h2M332 269.875h2M319 319.875h2M549 473.875h2M194 190.875h2M342 344.875h2M308 213.875h2M286 205.875h2M352 246.875h2M208 211.875h2M319 228.875h2M321 238.875h2M203 129.875h2M260 150.875h2M281 253.875h2M452 514.875h2M301 220.875h2M310 267.875h2M273 235.875h2M210 169.875h2M369 321.875h2M322 266.875h2M415 335.875h2M233 171.875h2M310 233.875h2M356 197.875h2M256 257.875h2M338 459.875h2M280 201.875h2M244 252.875h2M354 150.875h2M308 362.875h2M344 476.875h2M238 206.875h2M353 286.875h2M309 282.875h2M181 103.875h2M257 265.875h2M264 214.875h2M199 91.875h2M282 196.875h2M479 304.875h2M319 301.875h2M188 224.875h2M305 277.875h2M317 304.875h2M265 190.875h2M191 179.875h2M230 135.875h2M204 146.875h2M207 152.875h2M224 136.875h2M259 237.875h2M318 395.875h2M209 226.875h2M221 116.875h2M337 332.875h2M373 261.875h2M308 288.875h2M439 544.875h2M239 196.875h2M295 276.875h2M240 205.875h2M226 176.875h2M297 240.875h2M281 236.875h2M373 317.875h2M171 165.875h2M354 290.875h2M173 159.875h2M377 266.875h2M162 151.875h2M295 201.875h2M282 156.875h2M222 137.875h2M263 293.875h2M213 157.875h2M250 267.875h2M295 251.875h2M365 369.875h2M358 391.875h2M221 213.875h2M171 177.875h2M210 172.875h2M251 239.875h2M335 328.875h2M273 238.875h2M199 132.875h2M425 377.875h2M224 200.875h2M360 199.875h2M281 243.875h2M244 199.875h2M295 349.875h2M212 178.875h2M309 274.875h2M341 267.875h2M395 316.875h2M205 110.875h2M234 187.875h2M288 237.875h2M324 402.875h2M214 406.875h2M292 273.875h2M295 227.875h2M234 191.875h2M233 166.875h2M234 178.875h2M302 272.875h2M361 374.875h2M267 225.875h2M256 164.875h2M345 199.875h2M297 198.875h2M173 121.875h2M252 241.875h2M297 270.875h2M237 174.875h2M294 281.875h2M294 291.875h2M167 110.875h2M284 193.875h2M177 119.875h2M289 200.875h2M228 191.875h2M251 240.875h2M281 182.875h2M347 170.875h2M298 147.875h2M290 224.875h2M227 142.875h2M408 411.875h2M368 370.875h2M259 303.875h2M237 146.875h2M484 535.875h2M368 241.875h2M382 386.875h2M373 409.875h2M199 123.875h2M376 385.875h2M343 360.875h2M303 234.875h2M355 364.875h2M218 167.875h2M175 181.875h2M291 358.875h2M226 99.875h2M277 216.875h2M279 191.875h2M268 246.875h2M266 216.875h2M255 239.875h2M337 305.875h2M274 183.875h2M231 182.875h2M311 250.875h2M157 140.875h2M270 133.875h2M325 332.875h2M224 194.875h2M172 130.875h2M250 170.875h2M231 253.875h2M311 221.875h2M283 181.875h2M224 284.875h2M217 190.875h2M232 208.875h2M293 218.875h2M300 263.875h2M202 162.875h2M448 260.875h2M384 359.875h2M289 149.875h2M486 488.875h2M219 221.875h2M231 143.875h2M219 252.875h2M255 227.875h2M360 424.875h2M227 217.875h2M204 218.875h2M202 248.875h2M234 211.875h2M267 245.875h2M231 153.875h2M213 150.875h2M184 168.875h2M216 106.875h2M275 196.875h2M207 131.875h2M235 200.875h2M289 235.875h2M329 189.875h2M414 524.875h2M404 286.875h2M452 419.875h2M254 240.875h2M164 148.875h2M228 314.875h2M162 136.875h2M231 335.875h2M268 202.875h2M307 302.875h2M245 185.875h2M510 456.875h2M286 276.875h2M278 184.875h2M226 192.875h2M160 132.875h2M366 415.875h2M305 217.875h2M245 115.875h2M301 328.875h2M497 448.875h2M234 176.875h2M186 176.875h2M184 172.875h2M204 160.875h2M167 154.875h2M335 185.875h2M284 305.875h2M273 164.875h2M203 186.875h2M201 126.875h2M254 188.875h2M207 246.875h2M230 130.875h2M333 337.875h2M191 226.875h2M184 121.875h2M251 199.875h2M379 326.875h2M315 241.875h2M158 141.875h2M179 100.875h2M351 318.875h2M195 153.875h2M238 233.875h2M211 186.875h2M299 288.875h2M243 185.875h2M340 296.875h2M245 118.875h2M479 423.875h2M217 134.875h2M460 264.875h2M212 106.875h2M254 305.875h2M362 203.875h2M194 162.875h2M350 175.875h2M315 291.875h2M210 160.875h2M263 174.875h2M246 264.875h2M165 117.875h2M199 103.875h2M255 198.875h2M161 122.875h2M233 144.875h2M256 312.875h2M433 332.875h2M299 220.875h2M188 154.875h2M236 154.875h2M236 161.875h2M187 109.875h2M300 335.875h2M265 295.875h2M357 325.875h2M234 172.875h2M284 257.875h2M280 178.875h2M295 226.875h2M253 206.875h2M271 279.875h2M179 226.875h2M305 207.875h2M168 159.875h2M200 169.875h2M381 319.875h2M210 178.875h2M384 228.875h2M515 429.875h2M244 203.875h2M347 365.875h2M403 419.875h2M316 238.875h2M346 244.875h2M204 182.875h2M327 199.875h2M299 219.875h2M355 365.875h2M306 165.875h2M241 114.875h2M262 208.875h2M262 183.875h2M268 265.875h2M251 229.875h2M183 154.875h2M246 139.875h2M185 164.875h2M258 235.875h2M283 182.875h2M221 226.875h2M303 301.875h2M180 196.875h2M295 297.875h2M204 173.875h2M214 156.875h2M301 222.875h2M218 229.875h2M459 369.875h2M176 127.875h2M327 352.875h2M243 187.875h2M387 235.875h2M273 222.875h2M253 546.875h2M222 155.875h2M271 248.875h2M295 303.875h2M275 184.875h2M266 239.875h2M264 278.875h2M229 281.875h2M192 175.875h2M291 296.875h2M236 247.875h2M321 195.875h2M225 199.875h2M166 98.875h2M341 235.875h2M227 196.875h2M272 254.875h2M300 383.875h2M358 370.875h2M316 130.875h2M441 242.875h2M296 185.875h2M334 314.875h2M362 339.875h2M363 334.875h2M287 241.875h2M238 172.875h2M356 364.875h2M224 187.875h2M296 291.875h2M172 182.875h2M242 235.875h2M155 131.875h2M289 193.875h2M313 339.875h2M230 199.875h2M249 246.875h2M282 274.875h2M265 323.875h2M283 289.875h2M223 176.875h2M242 202.875h2M445 274.875h2M255 294.875h2M404 411.875h2M214 126.875h2M267 128.875h2M328 298.875h2M216 155.875h2M238 199.875h2M268 318.875h2M298 276.875h2M242 241.875h2M261 216.875h2M162 141.875h2M365 203.875h2M190 120.875h2M218 161.875h2M319 416.875h2M257 158.875h2M253 231.875h2M276 232.875h2M162 109.875h2M295 288.875h2M244 236.875h2M308 366.875h2M384 416.875h2M413 321.875h2M344 319.875h2M437 291.875h2M402 315.875h2M321 289.875h2M270 256.875h2M438 284.875h2M213 135.875h2M338 349.875h2M214 192.875h2M348 306.875h2M215 210.875h2M397 430.875h2M235 256.875h2M255 345.875h2M236 209.875h2M185 192.875h2M304 424.875h2M369 407.875h2M360 304.875h2M458 401.875h2M251 166.875h2M264 112.875h2M243 236.875h2M271 173.875h2M368 327.875h2M342 283.875h2M344 335.875h2M366 332.875h2M266 201.875h2M307 355.875h2M291 223.875h2M371 455.875h2M437 373.875h2M212 136.875h2M319 254.875h2M232 177.875h2M297 265.875h2M422 309.875h2M279 216.875h2M343 331.875h2M251 163.875h2M293 239.875h2M282 255.875h2M263 154.875h2M283 267.875h2M223 158.875h2M250 250.875h2M243 191.875h2M451 290.875h2M202 160.875h2M414 374.875h2M240 280.875h2M418 404.875h2M523 413.875h2M255 221.875h2M275 225.875h2M255 213.875h2M450 313.875h2M283 227.875h2M333 325.875h2M180 91.875h2M417 211.875h2M254 199.875h2M203 153.875h2M224 169.875h2M202 149.875h2M272 225.875h2M193 199.875h2M290 291.875h2M510 492.875h2M171 123.875h2M463 356.875h2M279 131.875h2M465 341.875h2M327 305.875h2M218 111.875h2M298 305.875h2M369 303.875h2M218 98.875h2M166 71.875h2M303 305.875h2M286 302.875h2M291 249.875h2M350 181.875h2M285 273.875h2M192 179.875h2M282 296.875h2M490 362.875h2M290 153.875h2M235 239.875h2M441 322.875h2M290 315.875h2M256 171.875h2M334 339.875h2M319 264.875h2M274 179.875h2M269 302.875h2M287 287.875h2M293 216.875h2M290 264.875h2M286 271.875h2M386 204.875h2M310 242.875h2M167 158.875h2M206 155.875h2M200 113.875h2M205 217.875h2M200 159.875h2M258 290.875h2M255 207.875h2M262 190.875h2M322 209.875h2M274 247.875h2M327 164.875h2M402 289.875h2M263 258.875h2M198 150.875h2M370 466.875h2M258 177.875h2M355 370.875h2M216 242.875h2M257 259.875h2M259 320.875h2M219 176.875h2M356 341.875h2M315 426.875h2M236 184.875h2M285 226.875h2M402 347.875h2M453 329.875h2M212 294.875h2M377 235.875h2M169 139.875h2M334 245.875h2M333 374.875h2M245 182.875h2M235 205.875h2M418 305.875h2M273 205.875h2M171 93.875h2M442 219.875h2M236 128.875h2M197 214.875h2M306 290.875h2M358 221.875h2M202 159.875h2M219 134.875h2M266 245.875h2M201 234.875h2M167 145.875h2M260 158.875h2M362 525.875h2M166 149.875h2M464 365.875h2M213 134.875h2M251 155.875h2M372 287.875h2M219 287.875h2M195 213.875h2M299 309.875h2M301 255.875h2M326 202.875h2M285 152.875h2M302 217.875h2M268 235.875h2M220 134.875h2M183 100.875h2M284 189.875h2M300 268.875h2M325 460.875h2M230 166.875h2M241 272.875h2M176 124.875h2M412 472.875h2M241 252.875h2M196 147.875h2M267 156.875h2M170 98.875h2M354 297.875h2M213 209.875h2M243 152.875h2M244 223.875h2M267 235.875h2M216 193.875h2M260 261.875h2M296 201.875h2M291 192.875h2M259 216.875h2M311 278.875h2M228 192.875h2M323 356.875h2M288 248.875h2M287 219.875h2M185 155.875h2M213 154.875h2M382 289.875h2M316 471.875h2M208 182.875h2M184 150.875h2M295 189.875h2M307 208.875h2M332 353.875h2M326 359.875h2M326 224.875h2M178 174.875h2M399 313.875h2M340 229.875h2M185 188.875h2M395 296.875h2M398 381.875h2M395 309.875h2M159 152.875h2M188 214.875h2M307 191.875h2M329 278.875h2M479 430.875h2M180 116.875h2M289 242.875h2M366 262.875h2M315 369.875h2M313 207.875h2M257 184.875h2M268 289.875h2M269 277.875h2M271 224.875h2M492 532.875h2M164 152.875h2M207 137.875h2M331 264.875h2M367 275.875h2M285 191.875h2M168 152.875h2M314 314.875h2M226 255.875h2M354 270.875h2M258 192.875h2M339 397.875h2M411 367.875h2M305 247.875h2M185 193.875h2M232 256.875h2M275 285.875h2M230 233.875h2M376 271.875h2M428 316.875h2M236 312.875h2M292 197.875h2M188 148.875h2M221 169.875h2M261 258.875h2M212 170.875h2M269 244.875h2M256 156.875h2M206 147.875h2M302 240.875h2M180 188.875h2M302 289.875h2M201 116.875h2M301 263.875h2M243 177.875h2M278 217.875h2M212 227.875h2M281 184.875h2M273 123.875h2M227 159.875h2M422 333.875h2M316 215.875h2M297 365.875h2M153 76.875h2M336 217.875h2M315 279.875h2M279 152.875h2M263 297.875h2M213 145.875h2M239 206.875h2M319 290.875h2M275 242.875h2M237 157.875h2M228 205.875h2M187 95.875h2M554 447.875h2M244 137.875h2M326 284.875h2M193 126.875h2M324 466.875h2M258 188.875h2M265 173.875h2M407 258.875h2M260 183.875h2M582 330.875h2M383 380.875h2M409 334.875h2M190 173.875h2M241 194.875h2M311 336.875h2M234 223.875h2M269 276.875h2M243 231.875h2M366 316.875h2M206 172.875h2M272 202.875h2M212 175.875h2M203 144.875h2M214 259.875h2M221 131.875h2M318 232.875h2M339 402.875h2M247 206.875h2M171 209.875h2M174 118.875h2M269 222.875h2M219 196.875h2M252 185.875h2M215 258.875h2M238 161.875h2M151 79.875h2M233 199.875h2M354 335.875h2M243 243.875h2M267 254.875h2M310 263.875h2M224 203.875h2M265 175.875h2M211 142.875h2M290 325.875h2M257 254.875h2M419 365.875h2M201 213.875h2M256 155.875h2M190 179.875h2M160 153.875h2M267 135.875h2M306 210.875h2M315 152.875h2M197 205.875h2M242 240.875h2M223 220.875h2M241 223.875h2M211 220.875h2M222 166.875h2M185 168.875h2M222 157.875h2M157 165.875h2M194 179.875h2M355 360.875h2M308 390.875h2M404 502.875h2M293 157.875h2M276 199.875h2M236 314.875h2M300 260.875h2M279 264.875h2M274 200.875h2M180 245.875h2M259 233.875h2M358 340.875h2M263 279.875h2M368 312.875h2M277 203.875h2M348 270.875h2M235 155.875h2M333 328.875h2M222 210.875h2M288 169.875h2M198 144.875h2M284 241.875h2M321 338.875h2M272 270.875h2M404 309.875h2M307 175.875h2M181 99.875h2M330 296.875h2M248 158.875h2M345 228.875h2M186 120.875h2M308 495.875h2M239 160.875h2M215 237.875h2M286 188.875h2M177 189.875h2M334 356.875h2M269 369.875h2M228 188.875h2M170 199.875h2M283 266.875h2M383 505.875h2M306 195.875h2M399 351.875h2M231 157.875h2M261 259.875h2M318 174.875h2M260 188.875h2M315 194.875h2M388 310.875h2M211 124.875h2M214 93.875h2M264 190.875h2M288 189.875h2M278 173.875h2M424 364.875h2M339 215.875h2M194 104.875h2M449 352.875h2M267 159.875h2M254 211.875h2M271 270.875h2M267 155.875h2M297 118.875h2M357 267.875h2M214 104.875h2M217 174.875h2M286 224.875h2M175 180.875h2M225 277.875h2M168 73.875h2M237 155.875h2M228 261.875h2M259 287.875h2M327 290.875h2M324 358.875h2M342 227.875h2M250 269.875h2M204 183.875h2M294 60.875h2M429 248.875h2M406 407.875h2M240 216.875h2M296 236.875h2M233 248.875h2M201 136.875h2M302 223.875h2M264 152.875h2M221 168.875h2M253 255.875h2M304 210.875h2M201 158.875h2M237 177.875h2M236 234.875h2M310 195.875h2M309 181.875h2M260 165.875h2M272 282.875h2M417 315.875h2M415 364.875h2M255 279.875h2M269 301.875h2M225 212.875h2M183 108.875h2M297 241.875h2M346 266.875h2M240 160.875h2M368 300.875h2M270 115.875h2M254 425.875h2M292 93.875h2M190 109.875h2M196 134.875h2M251 238.875h2M265 346.875h2M181 121.875h2M309 333.875h2M535 515.875h2M311 240.875h2M357 157.875h2M400 529.875h2M337 268.875h2M188 150.875h2M253 151.875h2M225 142.875h2M245 259.875h2M280 270.875h2M344 243.875h2M215 118.875h2M234 195.875h2M249 152.875h2M220 172.875h2M315 268.875h2M295 242.875h2M323 281.875h2M174 126.875h2M392 337.875h2M292 214.875h2M180 176.875h2M230 309.875h2M375 335.875h2M315 204.875h2M223 222.875h2M298 309.875h2M320 158.875h2M302 299.875h2M257 220.875h2M187 153.875h2M223 215.875h2M444 435.875h2M221 250.875h2M198 140.875h2M348 192.875h2M278 227.875h2M206 278.875h2M377 356.875h2M239 111.875h2M265 229.875h2M319 200.875h2M301 196.875h2M353 158.875h2M198 235.875h2M216 153.875h2M241 171.875h2M314 364.875h2M222 204.875h2M187 149.875h2M367 267.875h2M326 337.875h2M327 254.875h2M354 268.875h2M219 125.875h2M315 290.875h2M303 288.875h2M358 323.875h2M286 175.875h2M264 207.875h2M204 149.875h2M162 149.875h2M436 327.875h2M422 433.875h2M229 209.875h2M192 120.875h2M182 159.875h2M261 177.875h2M266 167.875h2M432 360.875h2M275 325.875h2M560 268.875h2M265 449.875h2M384 218.875h2M226 121.875h2M359 247.875h2M324 189.875h2M415 285.875h2M284 285.875h2M320 348.875h2M227 124.875h2M357 213.875h2M240 156.875h2M262 227.875h2M329 227.875h2M406 418.875h2M237 210.875h2M437 301.875h2M177 103.875h2M232 273.875h2M314 262.875h2M363 325.875h2M231 149.875h2M282 150.875h2M328 182.875h2M295 207.875h2M233 178.875h2M193 136.875h2M185 106.875h2M380 265.875h2M282 329.875h2M263 112.875h2M230 116.875h2M204 206.875h2M191 123.875h2M387 245.875h2M303 224.875h2M392 222.875h2M212 183.875h2M291 245.875h2M345 251.875h2M274 196.875h2M324 238.875h2M486 362.875h2M328 239.875h2M223 125.875h2M233 215.875h2M300 254.875h2M222 143.875h2M341 329.875h2M279 233.875h2M287 153.875h2M370 360.875h2M361 297.875h2M322 185.875h2M226 133.875h2M532 317.875h2M192 105.875h2M224 250.875h2M184 119.875h2M277 281.875h2M236 228.875h2M272 162.875h2M194 131.875h2M164 111.875h2M318 341.875h2M287 250.875h2M301 322.875h2M319 361.875h2M320 267.875h2M256 107.875h2M220 168.875h2M192 156.875h2M201 101.875h2M274 301.875h2M303 287.875h2M436 381.875h2M395 328.875h2M232 242.875h2M192 108.875h2M384 200.875h2M181 104.875h2M516 384.875h2M184 175.875h2M381 331.875h2M338 274.875h2M372 233.875h2M230 155.875h2M238 231.875h2M252 274.875h2M176 132.875h2M292 367.875h2M311 225.875h2M248 216.875h2M184 98.875h2M284 231.875h2M286 186.875h2M195 134.875h2M266 161.875h2M221 90.875h2M220 120.875h2M301 167.875h2M313 429.875h2M209 218.875h2M215 197.875h2M244 175.875h2M350 271.875h2M235 209.875h2M315 239.875h2M210 132.875h2M216 208.875h2M278 176.875h2M242 191.875h2M292 225.875h2M427 290.875h2M270 175.875h2M336 241.875h2M258 216.875h2M338 231.875h2M217 248.875h2M200 131.875h2M252 160.875h2M263 243.875h2M176 150.875h2M342 232.875h2M224 252.875h2M302 206.875h2M209 252.875h2M339 360.875h2M224 181.875h2M183 194.875h2M251 168.875h2M485 375.875h2M307 300.875h2M174 154.875h2M211 174.875h2M227 188.875h2M267 332.875h2M323 271.875h2M276 159.875h2M532 461.875h2M216 141.875h2M352 214.875h2M343 253.875h2M459 347.875h2M230 159.875h2M238 219.875h2M211 176.875h2M200 149.875h2M175 185.875h2M306 299.875h2M288 341.875h2M374 331.875h2M352 347.875h2M190 142.875h2M185 178.875h2M263 254.875h2M265 166.875h2M367 345.875h2M340 266.875h2M230 188.875h2M345 316.875h2M392 383.875h2M256 179.875h2M280 268.875h2M273 49.875h2M368 347.875h2M263 194.875h2M194 206.875h2M308 398.875h2M379 315.875h2M307 221.875h2M453 390.875h2M285 222.875h2M273 212.875h2M200 90.875h2M236 189.875h2M266 238.875h2M305 212.875h2M319 231.875h2M232 153.875h2M252 175.875h2M347 241.875h2M281 141.875h2M275 227.875h2M303 209.875h2M394 290.875h2M241 409.875h2M431 494.875h2M188 125.875h2M221 87.875h2M177 129.875h2M174 119.875h2M204 164.875h2M275 149.875h2M275 267.875h2M235 254.875h2M331 259.875h2M403 276.875h2M451 515.875h2M241 325.875h2M276 319.875h2M203 113.875h2M239 209.875h2M208 122.875h2M372 359.875h2M196 158.875h2M331 231.875h2M192 131.875h2M220 203.875h2M198 204.875h2M283 320.875h2M187 159.875h2M297 136.875h2M271 154.875h2M421 403.875h2M200 128.875h2M235 233.875h2M346 218.875h2M401 264.875h2M175 145.875h2M275 402.875h2M188 128.875h2M257 205.875h2M253 144.875h2M297 220.875h2M256 274.875h2M275 192.875h2M211 155.875h2M242 155.875h2M189 170.875h2M387 293.875h2M220 206.875h2M289 240.875h2M285 234.875h2M265 240.875h2M331 144.875h2M220 223.875h2M235 173.875h2M199 188.875h2M379 485.875h2M406 304.875h2M236 318.875h2M384 315.875h2M313 309.875h2M201 157.875h2M296 330.875h2M266 295.875h2M339 239.875h2M221 103.875h2M344 265.875h2M230 193.875h2M213 184.875h2M186 239.875h2M238 247.875h2M308 172.875h2M257 246.875h2M231 194.875h2M248 167.875h2M353 202.875h2M330 285.875h2M278 102.875h2M273 198.875h2M536 328.875h2M339 184.875h2M435 469.875h2M320 185.875h2M310 172.875h2M343 341.875h2M293 165.875h2M309 213.875h2M278 185.875h2M266 229.875h2M493 465.875h2M465 544.875h2M253 266.875h2M347 288.875h2M289 176.875h2M340 194.875h2M321 198.875h2M338 287.875h2M252 138.875h2M179 121.875h2M335 383.875h2M207 86.875h2M394 334.875h2M192 251.875h2M223 187.875h2M273 206.875h2M175 174.875h2M296 407.875h2M232 221.875h2M229 112.875h2M203 252.875h2M194 199.875h2M401 377.875h2M197 179.875h2M161 97.875h2M540 363.875h2M335 197.875h2M244 171.875h2M264 224.875h2M348 324.875h2M157 99.875h2M185 247.875h2M448 417.875h2M237 265.875h2M220 144.875h2M216 108.875h2M427 204.875h2M259 172.875h2M414 445.875h2M185 121.875h2M225 143.875h2M254 167.875h2M274 237.875h2M213 256.875h2M242 166.875h2M221 150.875h2M317 253.875h2M220 191.875h2M283 180.875h2M187 116.875h2M276 149.875h2M456 364.875h2M222 111.875h2M265 249.875h2M200 145.875h2M220 311.875h2M315 289.875h2M188 181.875h2M396 296.875h2M185 228.875h2M273 388.875h2M195 249.875h2M417 469.875h2M327 326.875h2M315 243.875h2M257 201.875h2M465 264.875h2M211 177.875h2M221 233.875h2M348 227.875h2M335 311.875h2M417 405.875h2M359 229.875h2M476 437.875h2M322 372.875h2M356 285.875h2M282 333.875h2M273 255.875h2M251 222.875h2M182 146.875h2M256 206.875h2M231 166.875h2M197 122.875h2M394 295.875h2M301 249.875h2M402 278.875h2M258 175.875h2M225 151.875h2M432 379.875h2M373 238.875h2M177 99.875h2M209 186.875h2M237 244.875h2M228 135.875h2M320 178.875h2M245 240.875h2M204 186.875h2M327 364.875h2M345 255.875h2M208 203.875h2M190 145.875h2M231 144.875h2M238 138.875h2M183 149.875h2M362 221.875h2M266 226.875h2M161 137.875h2M352 285.875h2M194 200.875h2M190 165.875h2M243 265.875h2M481 396.875h2M239 242.875h2M297 310.875h2M326 308.875h2M345 275.875h2M333 274.875h2M400 168.875h2M257 215.875h2M390 375.875h2M261 167.875h2M375 385.875h2M319 321.875h2M218 174.875h2M259 177.875h2M259 248.875h2M364 336.875h2M386 361.875h2M300 179.875h2M225 124.875h2M408 484.875h2M216 173.875h2M469 461.875h2M266 282.875h2M206 205.875h2M278 131.875h2M265 246.875h2M314 298.875h2M254 131.875h2M339 203.875h2M232 192.875h2M274 199.875h2M277 154.875h2M339 332.875h2M205 235.875h2M355 340.875h2M180 147.875h2M224 241.875h2M314 248.875h2M261 203.875h2M362 364.875h2M327 203.875h2M354 251.875h2M424 193.875h2M245 153.875h2M524 293.875h2M403 380.875h2M230 150.875h2M285 183.875h2M374 295.875h2M164 149.875h2M407 279.875h2M263 241.875h2M226 186.875h2M318 184.875h2M247 232.875h2M324 218.875h2M260 298.875h2M264 144.875h2M410 335.875h2M180 144.875h2M335 287.875h2M187 98.875h2M278 130.875h2M190 93.875h2M171 81.875h2M232 135.875h2M207 111.875h2M366 452.875h2M275 114.875h2M237 221.875h2M275 262.875h2M244 127.875h2M293 219.875h2M203 249.875h2M282 176.875h2M436 393.875h2M321 271.875h2M196 111.875h2M395 227.875h2M267 143.875h2M364 232.875h2M369 167.875h2M200 188.875h2M401 284.875h2M274 127.875h2M204 174.875h2M188 156.875h2M287 356.875h2M225 217.875h2M339 334.875h2M263 277.875h2M234 175.875h2M390 442.875h2M344 199.875h2M190 174.875h2M310 170.875h2M165 103.875h2M273 226.875h2M198 201.875h2M204 137.875h2M260 203.875h2M227 212.875h2M304 218.875h2M254 242.875h2M298 275.875h2M292 258.875h2M242 216.875h2M458 522.875h2M208 87.875h2M320 259.875h2M330 295.875h2M331 270.875h2M184 162.875h2M263 217.875h2M279 160.875h2M550 501.875h2M373 412.875h2M280 318.875h2M280 163.875h2M209 181.875h2M356 259.875h2M285 257.875h2M235 224.875h2M244 169.875h2M211 178.875h2M270 228.875h2M205 113.875h2M202 184.875h2M346 349.875h2M181 146.875h2M198 109.875h2M258 276.875h2M266 151.875h2M309 277.875h2M244 136.875h2M307 273.875h2M253 309.875h2M199 205.875h2M350 216.875h2M359 210.875h2M195 169.875h2M344 193.875h2M202 259.875h2M356 209.875h2M247 195.875h2M446 388.875h2M283 224.875h2M288 243.875h2M337 314.875h2M184 116.875h2M240 325.875h2M304 188.875h2M472 363.875h2M298 244.875h2M209 164.875h2M367 379.875h2M245 183.875h2M298 256.875h2M198 214.875h2M275 370.875h2M247 96.875h2M221 267.875h2M255 208.875h2M241 203.875h2M341 328.875h2M279 260.875h2M282 263.875h2M210 143.875h2M298 246.875h2M188 58.875h2M226 190.875h2M361 262.875h2M377 383.875h2M217 189.875h2M263 346.875h2M269 284.875h2M222 153.875h2M264 117.875h2M287 213.875h2M302 335.875h2M250 284.875h2M341 252.875h2M358 358.875h2M434 210.875h2M270 169.875h2M298 282.875h2M182 220.875h2M283 209.875h2M226 206.875h2M319 251.875h2M457 403.875h2M259 263.875h2M376 250.875h2M271 204.875h2M353 276.875h2M454 424.875h2M247 200.875h2M201 133.875h2M273 259.875h2M259 256.875h2M343 534.875h2M231 260.875h2M246 155.875h2M214 147.875h2M236 205.875h2M296 196.875h2M290 242.875h2M218 179.875h2M203 158.875h2M559 394.875h2M278 215.875h2M400 212.875h2M268 166.875h2M173 116.875h2M253 195.875h2M218 186.875h2M279 348.875h2M585 433.875h2M223 181.875h2M228 213.875h2M199 176.875h2M326 215.875h2M226 247.875h2M212 139.875h2M461 403.875h2M411 327.875h2M256 196.875h2M353 290.875h2M493 335.875h2M309 279.875h2M257 240.875h2M212 187.875h2M267 144.875h2M289 220.875h2M236 123.875h2M401 300.875h2M289 171.875h2M216 145.875h2M301 147.875h2M272 192.875h2M263 232.875h2M254 144.875h2M335 268.875h2M272 182.875h2M224 193.875h2M263 253.875h2M305 298.875h2M322 338.875h2M369 363.875h2M203 149.875h2M526 456.875h2M249 191.875h2M367 242.875h2M335 267.875h2M174 174.875h2M260 182.875h2M259 296.875h2M276 344.875h2M189 124.875h2M367 294.875h2M299 197.875h2M358 281.875h2M324 170.875h2M286 192.875h2M322 242.875h2M189 139.875h2M353 232.875h2M235 374.875h2M323 168.875h2M210 261.875h2M258 168.875h2M266 183.875h2M358 380.875h2M186 170.875h2M281 324.875h2M349 174.875h2M302 286.875h2M238 154.875h2M240 277.875h2M408 509.875h2M233 201.875h2M202 120.875h2M313 348.875h2M372 293.875h2M379 185.875h2M266 185.875h2M185 122.875h2M192 205.875h2M312 295.875h2M328 204.875h2M298 174.875h2M490 467.875h2M314 297.875h2M300 136.875h2M258 274.875h2M232 190.875h2M305 203.875h2M243 143.875h2M281 203.875h2M238 184.875h2M276 126.875h2M199 211.875h2M194 87.875h2M316 261.875h2M241 129.875h2M224 195.875h2M276 207.875h2M355 415.875h2M198 170.875h2M299 289.875h2M242 178.875h2M192 112.875h2M195 218.875h2M239 154.875h2M272 237.875h2M525 408.875h2M297 177.875h2M337 344.875h2M289 232.875h2M182 144.875h2M220 183.875h2M215 199.875h2M316 221.875h2M316 252.875h2M180 115.875h2M285 332.875h2M281 304.875h2M247 133.875h2M280 218.875h2M254 245.875h2M250 162.875h2M329 257.875h2M259 281.875h2M182 212.875h2M238 188.875h2M274 259.875h2M205 165.875h2M299 240.875h2M396 337.875h2M199 173.875h2M233 202.875h2M282 326.875h2M275 167.875h2M334 204.875h2M297 178.875h2M342 324.875h2M549 493.875h2M303 151.875h2M288 271.875h2M289 188.875h2M249 237.875h2M378 463.875h2M204 129.875h2M361 183.875h2M242 350.875h2M378 384.875h2M258 182.875h2M264 146.875h2M312 322.875h2M256 294.875h2M279 134.875h2M279 212.875h2M332 304.875h2M192 163.875h2M317 144.875h2M420 408.875h2M196 112.875h2M229 246.875h2M287 187.875h2M334 274.875h2M293 256.875h2M362 145.875h2M273 202.875h2M372 246.875h2M173 139.875h2M302 222.875h2M318 307.875h2M306 278.875h2M357 330.875h2M266 235.875h2M206 190.875h2M388 266.875h2M185 105.875h2M258 169.875h2M167 134.875h2M258 239.875h2M210 129.875h2M267 146.875h2M327 267.875h2M263 351.875h2M338 264.875h2M192 123.875h2M259 230.875h2M173 57.875h2M308 285.875h2M298 234.875h2M203 152.875h2M233 213.875h2M298 297.875h2M244 235.875h2M242 141.875h2M277 120.875h2M343 338.875h2M208 156.875h2M179 186.875h2M207 217.875h2M272 292.875h2M278 255.875h2M209 169.875h2M249 180.875h2M435 269.875h2M367 298.875h2M272 183.875h2M214 211.875h2M266 336.875h2M191 115.875h2M333 263.875h2M286 288.875h2M183 185.875h2M335 257.875h2M475 524.875h2M232 262.875h2M185 148.875h2M316 251.875h2M226 152.875h2M215 216.875h2M332 275.875h2M418 442.875h2M274 258.875h2M344 292.875h2M307 202.875h2M256 246.875h2M313 327.875h2M373 345.875h2M193 176.875h2M355 215.875h2M289 140.875h2M183 146.875h2M199 108.875h2M315 206.875h2M252 298.875h2M323 189.875h2M319 371.875h2M269 295.875h2M539 443.875h2M226 204.875h2M299 224.875h2M299 308.875h2M232 184.875h2M313 225.875h2M243 266.875h2M232 168.875h2M392 398.875h2M374 377.875h2M251 179.875h2M479 379.875h2M291 251.875h2M240 207.875h2M214 227.875h2M206 203.875h2M358 297.875h2M406 210.875h2M281 217.875h2M314 209.875h2M323 274.875h2M587 433.875h2M194 128.875h2M227 140.875h2M201 199.875h2M352 361.875h2M327 263.875h2M237 120.875h2M165 119.875h2M209 284.875h2M344 259.875h2M245 271.875h2M178 165.875h2M274 164.875h2M377 425.875h2M255 154.875h2M192 165.875h2M239 243.875h2M248 203.875h2M327 295.875h2M190 166.875h2M246 205.875h2M195 159.875h2M196 197.875h2M342 274.875h2M324 275.875h2M175 159.875h2M287 316.875h2M331 290.875h2M378 258.875h2M343 252.875h2M258 282.875h2M354 289.875h2M404 462.875h2M234 238.875h2M239 163.875h2M191 155.875h2M245 132.875h2M365 301.875h2M300 181.875h2M278 186.875h2M294 206.875h2M314 326.875h2M220 214.875h2M313 270.875h2M246 193.875h2M464 391.875h2M289 286.875h2M208 174.875h2M265 223.875h2M392 454.875h2M190 92.875h2M323 381.875h2M232 202.875h2M300 121.875h2M336 317.875h2M213 161.875h2M295 223.875h2M445 444.875h2M449 384.875h2M215 356.875h2M204 147.875h2M190 89.875h2M311 224.875h2M230 250.875h2M377 359.875h2M180 131.875h2M443 195.875h2M159 186.875h2M335 221.875h2M207 200.875h2M247 220.875h2M264 175.875h2M290 220.875h2M303 331.875h2M284 279.875h2M376 308.875h2M254 230.875h2M288 219.875h2M314 129.875h2M235 128.875h2M328 247.875h2M301 301.875h2M283 463.875h2M165 201.875h2M179 110.875h2M173 174.875h2M195 166.875h2M224 201.875h2M204 232.875h2M248 290.875h2M215 119.875h2M360 286.875h2M308 377.875h2M198 104.875h2M296 200.875h2M216 111.875h2M186 105.875h2M220 178.875h2M219 169.875h2M267 250.875h2M342 418.875h2M373 358.875h2M298 222.875h2M356 369.875h2M377 247.875h2M238 163.875h2M253 202.875h2M232 191.875h2M276 163.875h2M256 475.875h2M393 258.875h2M336 471.875h2M257 176.875h2M245 269.875h2M272 261.875h2M417 406.875h2M238 174.875h2M317 343.875h2M398 290.875h2M247 222.875h2M196 229.875h2M291 210.875h2M323 262.875h2M266 203.875h2M332 193.875h2M223 258.875h2M222 190.875h2M229 146.875h2M265 185.875h2M289 351.875h2M315 367.875h2M260 232.875h2M393 296.875h2M270 295.875h2M294 166.875h2M297 269.875h2M389 360.875h2M194 191.875h2M226 183.875h2M417 189.875h2M255 159.875h2M227 113.875h2M256 231.875h2M269 165.875h2M220 164.875h2M329 281.875h2M222 256.875h2M228 283.875h2M194 123.875h2M189 151.875h2M217 132.875h2M260 195.875h2M278 385.875h2M253 234.875h2M160 173.875h2M264 303.875h2M277 356.875h2M350 240.875h2M188 155.875h2M273 272.875h2M405 372.875h2M220 158.875h2M170 152.875h2M223 156.875h2M237 132.875h2M290 321.875h2M305 216.875h2M195 131.875h2M378 264.875h2M273 201.875h2M272 160.875h2M260 197.875h2M242 176.875h2M225 272.875h2M374 206.875h2M318 276.875h2M443 368.875h2M329 248.875h2M163 132.875h2M285 192.875h2M310 278.875h2M286 310.875h2M290 228.875h2M357 299.875h2M265 144.875h2M189 160.875h2M299 232.875h2M447 484.875h2M341 220.875h2M302 122.875h2M282 218.875h2M231 206.875h2M355 275.875h2M262 155.875h2M288 220.875h2M229 197.875h2M471 346.875h2M309 281.875h2M223 130.875h2M211 279.875h2M179 84.875h2M230 169.875h2M273 136.875h2M352 278.875h2M300 285.875h2M239 222.875h2M415 261.875h2M249 199.875h2M191 122.875h2M308 230.875h2M249 141.875h2M303 162.875h2M310 287.875h2M237 218.875h2M265 231.875h2M217 145.875h2M350 214.875h2M223 185.875h2M183 179.875h2M340 361.875h2M332 282.875h2M282 256.875h2M226 224.875h2M309 357.875h2M289 207.875h2M257 222.875h2M417 236.875h2M288 264.875h2M217 202.875h2M234 139.875h2M227 171.875h2M324 320.875h2M193 113.875h2M384 317.875h2M256 299.875h2M224 135.875h2M284 252.875h2M246 171.875h2M339 231.875h2M308 245.875h2M404 296.875h2M325 399.875h2M177 185.875h2M357 416.875h2M277 188.875h2M318 270.875h2M251 217.875h2M245 276.875h2M238 198.875h2M205 121.875h2M234 171.875h2M188 137.875h2M240 183.875h2M197 148.875h2M369 284.875h2M314 159.875h2M305 274.875h2M162 140.875h2M225 255.875h2M323 388.875h2M215 104.875h2M261 199.875h2M178 142.875h2M321 241.875h2M252 186.875h2M172 164.875h2M170 214.875h2M400 328.875h2M231 301.875h2M494 422.875h2M589 334.875h2M205 194.875h2M259 194.875h2M298 290.875h2M258 187.875h2M252 203.875h2M314 268.875h2M315 238.875h2M188 174.875h2M199 154.875h2M376 226.875h2M241 207.875h2M231 232.875h2M327 319.875h2M190 218.875h2M267 204.875h2M171 130.875h2M259 228.875h2M370 289.875h2M239 262.875h2M363 264.875h2M253 162.875h2M221 283.875h2M318 329.875h2M228 171.875h2M251 302.875h2M319 232.875h2M264 185.875h2M288 180.875h2M350 224.875h2M172 128.875h2M296 303.875h2M341 332.875h2M231 103.875h2M258 248.875h2M218 169.875h2M283 301.875h2M383 324.875h2M273 192.875h2M320 234.875h2M385 291.875h2M334 268.875h2M215 195.875h2M195 165.875h2M280 204.875h2M176 177.875h2M216 160.875h2M402 341.875h2M317 237.875h2M172 126.875h2M267 242.875h2M302 321.875h2M280 153.875h2M255 217.875h2M273 172.875h2M385 465.875h2M319 227.875h2M398 276.875h2M251 300.875h2M305 271.875h2M300 191.875h2M228 161.875h2M178 133.875h2M344 212.875h2M284 342.875h2M240 314.875h2M298 199.875h2M266 247.875h2M257 157.875h2M311 287.875h2M439 339.875h2M505 409.875h2M225 240.875h2M338 483.875h2M435 358.875h2M330 201.875h2M226 109.875h2M406 352.875h2M314 469.875h2M298 355.875h2M229 241.875h2M217 150.875h2M203 145.875h2M261 185.875h2M181 184.875h2M249 243.875h2M290 265.875h2M186 135.875h2M209 210.875h2M544 493.875h2M339 191.875h2M256 334.875h2M275 284.875h2M348 434.875h2M208 114.875h2M368 338.875h2M206 111.875h2M199 207.875h2M188 179.875h2M444 374.875h2M214 169.875h2M355 359.875h2M208 205.875h2M210 227.875h2M400 300.875h2M201 111.875h2M186 163.875h2M289 262.875h2M392 471.875h2M276 246.875h2M366 267.875h2M201 135.875h2M544 448.875h2M182 116.875h2M338 376.875h2M395 292.875h2M281 302.875h2M219 168.875h2M341 290.875h2M246 185.875h2M324 237.875h2M237 170.875h2M298 248.875h2M216 222.875h2M294 250.875h2M359 426.875h2M200 80.875h2M281 300.875h2M310 237.875h2M267 231.875h2M406 464.875h2M218 140.875h2M304 244.875h2M268 168.875h2M235 160.875h2M225 213.875h2M286 311.875h2M322 241.875h2M250 233.875h2M366 284.875h2M240 176.875h2M332 243.875h2M292 241.875h2M216 179.875h2M187 96.875h2M283 242.875h2M165 126.875h2M339 226.875h2M188 152.875h2M213 147.875h2M203 233.875h2M325 313.875h2M202 265.875h2M310 291.875h2M387 396.875h2M221 202.875h2M290 255.875h2M291 240.875h2M232 151.875h2M233 216.875h2M180 95.875h2M394 297.875h2M175 131.875h2M256 214.875h2M217 236.875h2M221 124.875h2M209 123.875h2M338 380.875h2M254 346.875h2M335 286.875h2M393 293.875h2M194 107.875h2M283 408.875h2M263 244.875h2M462 340.875h2M181 180.875h2M299 216.875h2M356 348.875h2M319 466.875h2M293 190.875h2M204 179.875h2M311 331.875h2M309 327.875h2M211 141.875h2M217 158.875h2M172 119.875h2M171 125.875h2M211 198.875h2M212 111.875h2M233 165.875h2M358 299.875h2M278 309.875h2M237 204.875h2M365 295.875h2M219 211.875h2M304 365.875h2M237 325.875h2M259 205.875h2M307 254.875h2M370 218.875h2M194 229.875h2M228 144.875h2M188 129.875h2M438 319.875h2M188 145.875h2M244 253.875h2M198 179.875h2M368 442.875h2M178 130.875h2M333 299.875h2M299 221.875h2M345 289.875h2M338 209.875h2M312 179.875h2M224 132.875h2M378 391.875h2M252 174.875h2M253 179.875h2M321 268.875h2M341 287.875h2M208 112.875h2M543 495.875h2M169 163.875h2M252 236.875h2M276 318.875h2M301 223.875h2M328 260.875h2M284 263.875h2M208 208.875h2M182 175.875h2M234 228.875h2M233 231.875h2M222 127.875h2M184 174.875h2M267 287.875h2M342 308.875h2M344 333.875h2M329 363.875h2M357 210.875h2M214 153.875h2M432 278.875h2M268 321.875h2M304 291.875h2M221 132.875h2M173 113.875h2M207 226.875h2M295 337.875h2M270 267.875h2M240 143.875h2M238 211.875h2M324 244.875h2M278 258.875h2M286 142.875h2M205 131.875h2M237 197.875h2M321 245.875h2M221 218.875h2M296 247.875h2M245 180.875h2M254 215.875h2M328 213.875h2M281 175.875h2M180 151.875h2M164 179.875h2M254 200.875h2M381 268.875h2M382 295.875h2M279 202.875h2M461 401.875h2M241 151.875h2M365 231.875h2M293 310.875h2M319 235.875h2M246 243.875h2M324 225.875h2M318 261.875h2M338 205.875h2M197 218.875h2M273 302.875h2M254 191.875h2M231 168.875h2M243 176.875h2M218 285.875h2M306 297.875h2M317 159.875h2M173 141.875h2M245 234.875h2M192 121.875h2M189 162.875h2M257 288.875h2M421 290.875h2M246 353.875h2M556 470.875h2M236 218.875h2M173 128.875h2M191 129.875h2M262 198.875h2M317 177.875h2M368 399.875h2M219 192.875h2M310 171.875h2M273 281.875h2M273 175.875h2M358 276.875h2M197 120.875h2M217 201.875h2M265 196.875h2M406 324.875h2M291 180.875h2M317 218.875h2M241 221.875h2M356 280.875h2M165 124.875h2M319 320.875h2M221 143.875h2M560 451.875h2M312 326.875h2M283 238.875h2M234 339.875h2M241 188.875h2M338 314.875h2M210 74.875h2M159 107.875h2M559 471.875h2M337 337.875h2M253 313.875h2M229 194.875h2M246 251.875h2M274 100.875h2M197 198.875h2M311 216.875h2M205 150.875h2M380 410.875h2M375 291.875h2M308 276.875h2M200 191.875h2M275 169.875h2M381 313.875h2M247 221.875h2M291 200.875h2M212 192.875h2M338 229.875h2M231 225.875h2M193 164.875h2M173 203.875h2M407 426.875h2M277 270.875h2M239 217.875h2M274 184.875h2M248 280.875h2M243 215.875h2M319 180.875h2M394 554.875h2M337 316.875h2M269 196.875h2M274 244.875h2M279 223.875h2M269 225.875h2M311 206.875h2M193 142.875h2M268 258.875h2M443 362.875h2M188 97.875h2M306 207.875h2M258 210.875h2M254 231.875h2M334 337.875h2M434 391.875h2M241 190.875h2M223 234.875h2M367 335.875h2M198 174.875h2M297 290.875h2M200 137.875h2M241 109.875h2M314 324.875h2M234 285.875h2M349 300.875h2M220 243.875h2M248 204.875h2M251 169.875h2M322 530.875h2M280 245.875h2M252 212.875h2M299 190.875h2M189 105.875h2M195 238.875h2M247 264.875h2M203 208.875h2M315 161.875h2M272 139.875h2M191 193.875h2M468 445.875h2M159 141.875h2M274 192.875h2M158 162.875h2M332 306.875h2M280 129.875h2M265 238.875h2M316 163.875h2M213 187.875h2M274 208.875h2M308 314.875h2M372 349.875h2M353 271.875h2M239 190.875h2M380 388.875h2M245 207.875h2M246 235.875h2M279 284.875h2M263 224.875h2M318 292.875h2M387 225.875h2M188 184.875h2M234 160.875h2M284 259.875h2M313 255.875h2M310 219.875h2M247 307.875h2M176 110.875h2M245 206.875h2M352 346.875h2M304 131.875h2M272 262.875h2M252 238.875h2M317 255.875h2M324 277.875h2M213 198.875h2M429 236.875h2M364 266.875h2M299 160.875h2M357 396.875h2M357 260.875h2M455 300.875h2M375 311.875h2M351 469.875h2M283 177.875h2M298 322.875h2M224 205.875h2M255 292.875h2M217 197.875h2M299 262.875h2M447 397.875h2M235 334.875h2M329 225.875h2M286 297.875h2M258 257.875h2M287 274.875h2M254 220.875h2M447 331.875h2M225 267.875h2M296 273.875h2M409 341.875h2M167 79.875h2M235 78.875h2M239 204.875h2M336 395.875h2M250 154.875h2M167 90.875h2M382 420.875h2M352 241.875h2M369 295.875h2M257 316.875h2M229 150.875h2M179 228.875h2M251 290.875h2M293 347.875h2M392 407.875h2M176 190.875h2M270 250.875h2M262 182.875h2M299 161.875h2M239 207.875h2M256 192.875h2M309 252.875h2M237 246.875h2M201 103.875h2M450 301.875h2M205 161.875h2M343 203.875h2M223 154.875h2M205 253.875h2M271 325.875h2M259 162.875h2M198 128.875h2M273 307.875h2M259 280.875h2M325 269.875h2M213 176.875h2M208 133.875h2M315 350.875h2M187 104.875h2M227 204.875h2M268 186.875h2M348 255.875h2M547 458.875h2M177 130.875h2M179 133.875h2M249 256.875h2M318 290.875h2M195 88.875h2M186 101.875h2M289 257.875h2M327 234.875h2M315 360.875h2M272 152.875h2M250 268.875h2M300 306.875h2M308 289.875h2M215 205.875h2M354 341.875h2M154 85.875h2M206 186.875h2M342 251.875h2M193 124.875h2M255 224.875h2M327 285.875h2M215 151.875h2M239 232.875h2M588 238.875h2M244 284.875h2M218 293.875h2M284 130.875h2M189 190.875h2M325 227.875h2M254 246.875h2M248 301.875h2M426 465.875h2M218 224.875h2M330 149.875h2M297 313.875h2M508 484.875h2M294 185.875h2M348 212.875h2M194 157.875h2M377 331.875h2M242 272.875h2M554 438.875h2M365 314.875h2M224 106.875h2M247 240.875h2M336 269.875h2M388 270.875h2M266 286.875h2M210 179.875h2M328 322.875h2M262 166.875h2M336 247.875h2M427 332.875h2M272 144.875h2M320 233.875h2M301 195.875h2M384 264.875h2M289 249.875h2M286 367.875h2M385 345.875h2M485 420.875h2M304 228.875h2M406 270.875h2M210 207.875h2M255 272.875h2M300 158.875h2M276 190.875h2M185 145.875h2M256 250.875h2M215 181.875h2M392 322.875h2M254 197.875h2M311 380.875h2M195 122.875h2M199 113.875h2M281 265.875h2M260 217.875h2M260 349.875h2M239 181.875h2M190 207.875h2M242 257.875h2M154 152.875h2M246 290.875h2M229 275.875h2M180 161.875h2M170 187.875h2M396 239.875h2M280 199.875h2M177 167.875h2M285 176.875h2M306 519.875h2M149 66.875h2M320 117.875h2M281 202.875h2M160 117.875h2M179 143.875h2M310 335.875h2M265 200.875h2M204 148.875h2M325 209.875h2M185 133.875h2M319 201.875h2M238 147.875h2M349 433.875h2M308 160.875h2M467 311.875h2M269 241.875h2M228 142.875h2M155 149.875h2M250 175.875h2M458 341.875h2M317 226.875h2M370 337.875h2M227 138.875h2M191 224.875h2M499 311.875h2M462 385.875h2M415 256.875h2M265 197.875h2M226 129.875h2M333 257.875h2M208 226.875h2M206 202.875h2M241 232.875h2M365 238.875h2M227 110.875h2M253 236.875h2M335 178.875h2M288 207.875h2M183 165.875h2M204 214.875h2M198 147.875h2M510 275.875h2M228 197.875h2M402 286.875h2M369 376.875h2M271 243.875h2M246 158.875h2M250 177.875h2M258 237.875h2M212 110.875h2M275 155.875h2M567 446.875h2M300 307.875h2M420 282.875h2M297 239.875h2M231 238.875h2M293 291.875h2M299 385.875h2M258 376.875h2M271 339.875h2M263 187.875h2M223 136.875h2M270 361.875h2M291 317.875h2M513 375.875h2M290 176.875h2M224 180.875h2M157 138.875h2M348 244.875h2M261 116.875h2M268 231.875h2M178 106.875h2M228 132.875h2M183 170.875h2M227 178.875h2M168 108.875h2M320 212.875h2M232 303.875h2M176 134.875h2M173 100.875h2M424 349.875h2M305 267.875h2M248 223.875h2M254 109.875h2M255 190.875h2M191 227.875h2M282 261.875h2M235 294.875h2M322 220.875h2M246 138.875h2M467 296.875h2M521 281.875h2M416 357.875h2M327 280.875h2M423 281.875h2M206 174.875h2M227 199.875h2M229 162.875h2M316 360.875h2M185 167.875h2M302 191.875h2M331 276.875h2M287 182.875h2M239 155.875h2M187 105.875h2M339 526.875h2M220 177.875h2M203 196.875h2M172 215.875h2M177 101.875h2M220 136.875h2M184 118.875h2M325 282.875h2M182 86.875h2M288 170.875h2M204 204.875h2M306 240.875h2M348 222.875h2M200 272.875h2M315 319.875h2M285 196.875h2M209 152.875h2M199 111.875h2M226 218.875h2M206 71.875h2M217 212.875h2M293 252.875h2M236 213.875h2M270 263.875h2M245 175.875h2M337 205.875h2M229 242.875h2M277 249.875h2M281 221.875h2M261 169.875h2M234 157.875h2M357 354.875h2M182 147.875h2M233 274.875h2M314 227.875h2M300 341.875h2M199 199.875h2M257 223.875h2M363 472.875h2M235 247.875h2M277 319.875h2M335 266.875h2M275 356.875h2M210 162.875h2M224 280.875h2M209 216.875h2M262 290.875h2M310 228.875h2M347 448.875h2M338 195.875h2M420 321.875h2M237 179.875h2M174 140.875h2M227 264.875h2M234 315.875h2M246 147.875h2M247 258.875h2M209 190.875h2M375 262.875h2M318 263.875h2M337 221.875h2M174 204.875h2M243 138.875h2M368 248.875h2M473 512.875h2M208 180.875h2M228 190.875h2M304 295.875h2M192 166.875h2M230 141.875h2M211 130.875h2M280 292.875h2M268 267.875h2M341 295.875h2M561 416.875h2M206 215.875h2M342 311.875h2M211 113.875h2M328 375.875h2M282 228.875h2M477 427.875h2M311 289.875h2M231 226.875h2M372 365.875h2M263 245.875h2M235 197.875h2M308 372.875h2M327 452.875h2M429 346.875h2M296 250.875h2M237 183.875h2M308 170.875h2M364 329.875h2M221 100.875h2M158 154.875h2M293 162.875h2M249 163.875h2M215 183.875h2M218 208.875h2M370 285.875h2M354 224.875h2M243 204.875h2M261 124.875h2M236 171.875h2M316 274.875h2M312 229.875h2M186 199.875h2M360 385.875h2M434 345.875h2M307 198.875h2M491 401.875h2M361 316.875h2M243 233.875h2M239 185.875h2M236 203.875h2M209 195.875h2M243 260.875h2M216 180.875h2M395 333.875h2M318 538.875h2M174 142.875h2M188 180.875h2M486 395.875h2M382 258.875h2M212 228.875h2M247 130.875h2M188 139.875h2M252 219.875h2M356 301.875h2M330 352.875h2M306 381.875h2M364 450.875h2M320 211.875h2M243 237.875h2M230 167.875h2M321 266.875h2M275 199.875h2M415 555.875h2M242 319.875h2M297 209.875h2M358 289.875h2M189 205.875h2M322 409.875h2M179 204.875h2M212 256.875h2M232 201.875h2M260 107.875h2M307 275.875h2M228 253.875h2M220 227.875h2M199 180.875h2M465 310.875h2M349 179.875h2M411 340.875h2M180 195.875h2M309 298.875h2M233 170.875h2M381 225.875h2M272 279.875h2M249 181.875h2M275 222.875h2M340 230.875h2M309 276.875h2M252 191.875h2M186 67.875h2M324 281.875h2M316 442.875h2M288 311.875h2M210 128.875h2M189 154.875h2M396 373.875h2M183 151.875h2M179 153.875h2M198 171.875h2M249 146.875h2M277 271.875h2M249 252.875h2M245 172.875h2M275 288.875h2M192 224.875h2M195 236.875h2M215 123.875h2M268 255.875h2M399 354.875h2M261 280.875h2M403 240.875h2M199 160.875h2M184 134.875h2M259 236.875h2M235 259.875h2M277 285.875h2M360 400.875h2M313 258.875h2M298 192.875h2M311 220.875h2M224 225.875h2M167 166.875h2M275 170.875h2M317 251.875h2M285 253.875h2M341 349.875h2M218 255.875h2M319 273.875h2M236 202.875h2M332 213.875h2M222 184.875h2M313 292.875h2M259 277.875h2M238 236.875h2M251 137.875h2M313 216.875h2M245 144.875h2M264 235.875h2M358 249.875h2M292 280.875h2M272 229.875h2M266 230.875h2M285 309.875h2M188 130.875h2M382 292.875h2M253 184.875h2M303 228.875h2M221 239.875h2M322 302.875h2M355 356.875h2M222 240.875h2M278 321.875h2M258 209.875h2M184 189.875h2M267 271.875h2M285 244.875h2M293 183.875h2M194 130.875h2M391 265.875h2M348 194.875h2M176 166.875h2M261 207.875h2M280 276.875h2M279 287.875h2M221 224.875h2M334 301.875h2M259 221.875h2M285 188.875h2M206 139.875h2M305 242.875h2M256 197.875h2M390 338.875h2M227 208.875h2M255 249.875h2M308 318.875h2M573 360.875h2M267 148.875h2M331 282.875h2M283 311.875h2M273 287.875h2M229 243.875h2M253 217.875h2M442 389.875h2M179 216.875h2M284 208.875h2M221 175.875h2M212 150.875h2M202 253.875h2M198 136.875h2M190 122.875h2M240 103.875h2M222 141.875h2M403 293.875h2M296 302.875h2M291 281.875h2M454 250.875h2M243 226.875h2M283 173.875h2M347 397.875h2M279 225.875h2M202 185.875h2M264 189.875h2M293 269.875h2M282 200.875h2M335 215.875h2M259 273.875h2M247 213.875h2M385 271.875h2M202 218.875h2M296 358.875h2M303 211.875h2M270 199.875h2M429 504.875h2M376 335.875h2M331 283.875h2M237 178.875h2M208 110.875h2M285 260.875h2M166 179.875h2M323 343.875h2M331 295.875h2M213 182.875h2M354 103.875h2M284 230.875h2M282 294.875h2M293 372.875h2M393 252.875h2M270 176.875h2M256 147.875h2M364 222.875h2M222 303.875h2M301 282.875h2M259 146.875h2M391 351.875h2M444 316.875h2M384 367.875h2M302 205.875h2M168 127.875h2M315 324.875h2M240 175.875h2M208 158.875h2M415 368.875h2M205 135.875h2M496 258.875h2M558 305.875h2M305 413.875h2M304 331.875h2M394 250.875h2M370 205.875h2M335 228.875h2M193 147.875h2M361 301.875h2M355 310.875h2M249 319.875h2M180 174.875h2M220 207.875h2M302 307.875h2M267 200.875h2M492 486.875h2M210 236.875h2M282 162.875h2M309 235.875h2M389 341.875h2M192 202.875h2M434 296.875h2M276 303.875h2M383 503.875h2M259 190.875h2M399 244.875h2M255 152.875h2M244 297.875h2M300 317.875h2M298 247.875h2M175 157.875h2M260 169.875h2M340 233.875h2M344 342.875h2M353 350.875h2M236 280.875h2M265 192.875h2M271 253.875h2M229 130.875h2M229 221.875h2M310 206.875h2M174 120.875h2M256 222.875h2M320 219.875h2M280 212.875h2M196 307.875h2M359 264.875h2M275 212.875h2M254 207.875h2M336 320.875h2M165 129.875h2M215 109.875h2M354 336.875h2M349 215.875h2M470 325.875h2M247 178.875h2M252 234.875h2M356 252.875h2M209 262.875h2M300 185.875h2M265 202.875h2M188 190.875h2M308 275.875h2M250 194.875h2M192 96.875h2M374 380.875h2M243 200.875h2M373 359.875h2M239 125.875h2M370 356.875h2M213 196.875h2M258 101.875h2M201 168.875h2M167 95.875h2M288 401.875h2M265 245.875h2M447 314.875h2M346 282.875h2M235 187.875h2M203 159.875h2M196 98.875h2M447 358.875h2M207 191.875h2M376 347.875h2M176 106.875h2M175 103.875h2M251 301.875h2M264 179.875h2M160 184.875h2M213 93.875h2M304 195.875h2M196 180.875h2M303 299.875h2M242 128.875h2M362 299.875h2M284 166.875h2M191 164.875h2M278 181.875h2M197 192.875h2M189 244.875h2M297 213.875h2M357 464.875h2M236 170.875h2M327 181.875h2M279 190.875h2M258 349.875h2M201 127.875h2M267 193.875h2M395 324.875h2M222 251.875h2M191 150.875h2M325 281.875h2M211 230.875h2M241 286.875h2M282 297.875h2M260 325.875h2M397 323.875h2M240 235.875h2M233 233.875h2M240 239.875h2M457 310.875h2M213 142.875h2M212 97.875h2M233 197.875h2M224 213.875h2M205 199.875h2M296 214.875h2M290 203.875h2M176 215.875h2M222 61.875h2M232 186.875h2M333 262.875h2M259 203.875h2M206 154.875h2M440 417.875h2M155 10.875h2M142 19.875h2M170 25.875h2M175 24.875h2M180 25.875h2M163 33.875h2M190 32.875h2M193 34.875h2M203 33.875h2M212 31.875h2M150 39.875h2M157 40.875h2M161 43.875h2M165 43.875h2M168 39.875h2M196 41.875h2M198 42.875h2M220 39.875h2M192 46.875h2M185 42.875h2M184 44.875h2M200 47.875h2M205 46.875h2M211 47.875h2" stroke="#4f9ad9" stroke-width="1.75" fill="none"/>
<path d="M38 3V559.5" stroke="#858585" stroke-width="2" fill="none"/>
<path d="M40.6 563H594.5" stroke="#858585" stroke-width="2" fill="none"/>
<path d="M41.5 560v6M122.5 560v6M202.5 560v6M283.5 560v6M364.5 560v6M445.5 560v6M526.5 560v6M594.5 560v6" stroke="#bdbdbd" stroke-width="1" fill="none"/>
<g class="yl"><text x="32.6" y="7.6">75</text><text x="32.6" y="26.1">70</text><text x="32.6" y="44.7">65</text><text x="32.6" y="63.2">60</text><text x="32.6" y="81.7">55</text><text x="32.6" y="100.3">50</text><text x="32.6" y="118.8">45</text><text x="32.6" y="137.3">40</text><text x="32.6" y="155.9">35</text><text x="32.6" y="174.4">30</text><text x="32.6" y="192.9">25</text><text x="32.6" y="211.5">20</text><text x="32.6" y="230.0">15</text><text x="32.6" y="248.5">10</text><text x="32.6" y="267.1">5</text><text x="32.6" y="285.6">0</text><text x="32.6" y="304.1">-5</text><text x="32.6" y="322.7">-10</text><text x="32.6" y="341.2">-15</text><text x="32.6" y="359.7">-20</text><text x="32.6" y="378.3">-25</text><text x="32.6" y="396.8">-30</text><text x="32.6" y="415.3">-35</text><text x="32.6" y="433.9">-40</text><text x="32.6" y="452.4">-45</text><text x="32.6" y="470.9">-50</text><text x="32.6" y="489.5">-55</text><text x="32.6" y="508.0">-60</text><text x="32.6" y="526.5">-65</text><text x="32.6" y="545.1">-70</text><text x="32.6" y="563.6">-75</text></g>
<g class="xl"><text x="41.2" y="578.2">-0.0006</text><text x="122.1" y="578.2">0.0000</text><text x="203.0" y="578.2">0.0006</text><text x="283.9" y="578.2">0.0012</text><text x="364.8" y="578.2">0.0018</text><text x="445.7" y="578.2">0.0024</text><text x="526.6" y="578.2">0.0030</text><text x="594.0" y="578.2">0.0035</text></g>
<text class="q" x="62" y="61">Quadrant II</text>
<text class="q" x="473.3" y="64.7">Quadrant I</text>
<text class="q" x="61.2" y="492.8">Quadrant III</text>
<text class="q" x="476" y="493.5">Quadrant IV</text>
<text class="t" x="317.3" y="596.4" text-anchor="middle">Incremental Effectiveness(QALYs)</text>
<text class="t" transform="translate(9 282.2) rotate(-90)" text-anchor="middle">Incremental Cost($)</text>
</svg>
</body></html>
